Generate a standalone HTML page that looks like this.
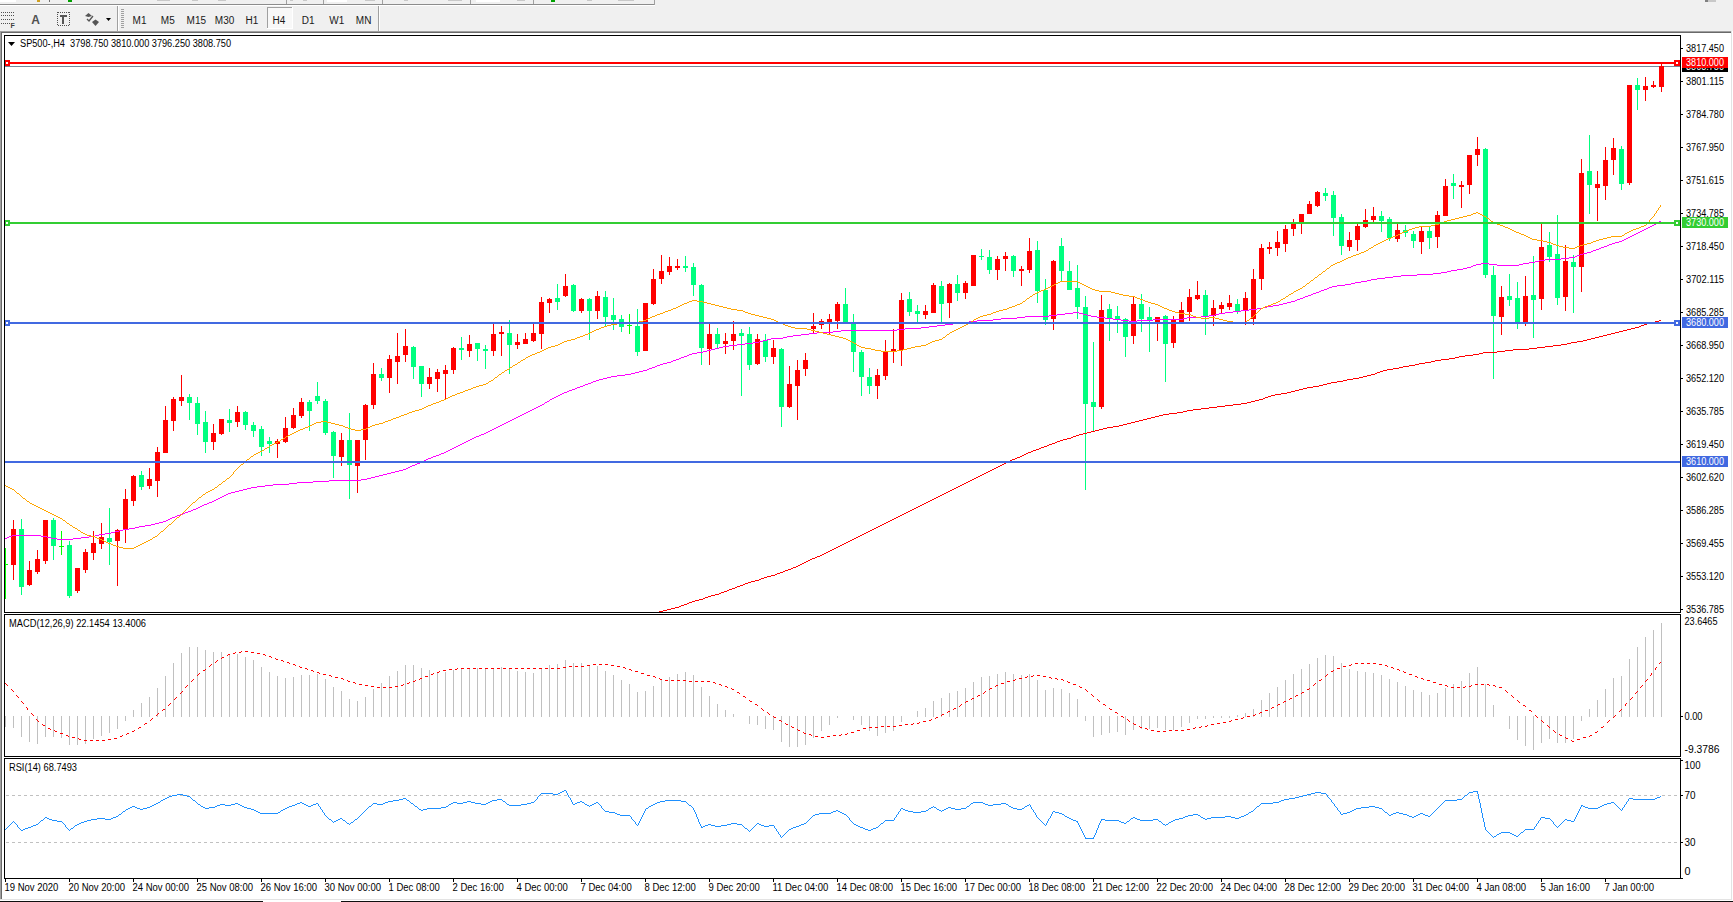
<!DOCTYPE html><html><head><meta charset="utf-8"><style>html,body{margin:0;padding:0;background:#f0f0f0;overflow:hidden}svg{display:block}text{font-family:'Liberation Sans',sans-serif}</style></head><body>
<svg width="1733" height="902" viewBox="0 0 1733 902">
<rect x="0" y="0" width="1733" height="902" fill="#f0f0f0"/>
<g shape-rendering="crispEdges">
<rect x="0" y="4" width="655" height="1" fill="#8c8c8c"/>
<rect x="0" y="5" width="655" height="1" fill="#ffffff"/>
<rect x="654" y="0" width="1" height="5" fill="#a0a0a0"/>
<rect x="0" y="0" width="16" height="2" fill="#ffffff"/>
<rect x="68" y="0" width="4" height="2" fill="#00a000"/>
<rect x="37" y="0" width="3" height="2" fill="#d0a020"/>
<rect x="49" y="0" width="1" height="2" fill="#707070"/>
<rect x="286" y="0" width="1" height="4" fill="#a0a0a0"/>
<rect x="323" y="0" width="1" height="4" fill="#a0a0a0"/>
<rect x="382" y="0" width="1" height="4" fill="#a0a0a0"/>
<rect x="470" y="0" width="1" height="4" fill="#a0a0a0"/>
<rect x="533" y="0" width="1" height="4" fill="#a0a0a0"/>
<rect x="157" y="0" width="13" height="1" fill="#c8c8c8"/>
<rect x="192" y="0" width="6" height="1" fill="#c8c8c8"/>
<rect x="218" y="0" width="8" height="1" fill="#c8c8c8"/>
<rect x="290" y="0" width="3" height="1" fill="#c8c8c8"/>
<rect x="303" y="0" width="4" height="1" fill="#c8c8c8"/>
<rect x="365" y="0" width="10" height="1" fill="#c8c8c8"/>
<rect x="404" y="0" width="4" height="1" fill="#c8c8c8"/>
<rect x="448" y="0" width="14" height="1" fill="#c8c8c8"/>
<rect x="517" y="0" width="8" height="1" fill="#c8c8c8"/>
<rect x="587" y="0" width="5" height="1" fill="#c8c8c8"/>
<rect x="618" y="0" width="16" height="1" fill="#c8c8c8"/>
<rect x="327" y="0" width="20" height="2" fill="#ffffff"/>
<rect x="476" y="0" width="24" height="2" fill="#ffffff"/>
<rect x="551" y="0" width="4" height="2" fill="#00a000"/>
<rect x="1705" y="0" width="3" height="2" fill="#808080"/><rect x="1708" y="0" width="8" height="2" fill="#c8c8c8"/>
<rect x="117" y="6" width="1" height="25" fill="#a0a0a0"/><rect x="118" y="6" width="1" height="25" fill="#ffffff"/>
<rect x="378" y="6" width="1" height="25" fill="#a0a0a0"/><rect x="379" y="6" width="1" height="25" fill="#ffffff"/>
<rect x="121" y="9" width="3" height="1" fill="#a0a0a0"/>
<rect x="121" y="11" width="3" height="1" fill="#a0a0a0"/>
<rect x="121" y="13" width="3" height="1" fill="#a0a0a0"/>
<rect x="121" y="15" width="3" height="1" fill="#a0a0a0"/>
<rect x="121" y="17" width="3" height="1" fill="#a0a0a0"/>
<rect x="121" y="19" width="3" height="1" fill="#a0a0a0"/>
<rect x="121" y="21" width="3" height="1" fill="#a0a0a0"/>
<rect x="121" y="23" width="3" height="1" fill="#a0a0a0"/>
<rect x="121" y="25" width="3" height="1" fill="#a0a0a0"/>
<rect x="121" y="27" width="3" height="1" fill="#a0a0a0"/>
<rect x="267" y="7" width="26" height="22" fill="#f8f8f8"/>
<rect x="267" y="7" width="26" height="1" fill="#a0a0a0"/><rect x="267" y="7" width="1" height="22" fill="#a0a0a0"/>
<rect x="267" y="28" width="26" height="1" fill="#ffffff"/><rect x="292" y="7" width="1" height="22" fill="#ffffff"/>
<rect x="1" y="12" width="1" height="1" fill="#505050"/>
<rect x="3" y="12" width="1" height="1" fill="#505050"/>
<rect x="5" y="12" width="1" height="1" fill="#505050"/>
<rect x="7" y="12" width="1" height="1" fill="#505050"/>
<rect x="9" y="12" width="1" height="1" fill="#505050"/>
<rect x="11" y="12" width="1" height="1" fill="#505050"/>
<rect x="13" y="12" width="1" height="1" fill="#505050"/>
<rect x="1" y="15" width="1" height="1" fill="#505050"/>
<rect x="3" y="15" width="1" height="1" fill="#505050"/>
<rect x="5" y="15" width="1" height="1" fill="#505050"/>
<rect x="7" y="15" width="1" height="1" fill="#505050"/>
<rect x="9" y="15" width="1" height="1" fill="#505050"/>
<rect x="11" y="15" width="1" height="1" fill="#505050"/>
<rect x="13" y="15" width="1" height="1" fill="#505050"/>
<rect x="1" y="19" width="1" height="1" fill="#505050"/>
<rect x="3" y="19" width="1" height="1" fill="#505050"/>
<rect x="5" y="19" width="1" height="1" fill="#505050"/>
<rect x="7" y="19" width="1" height="1" fill="#505050"/>
<rect x="9" y="19" width="1" height="1" fill="#505050"/>
<rect x="11" y="19" width="1" height="1" fill="#505050"/>
<rect x="13" y="19" width="1" height="1" fill="#505050"/>
<rect x="1" y="23" width="1" height="1" fill="#505050"/>
<rect x="3" y="23" width="1" height="1" fill="#505050"/>
<rect x="5" y="23" width="1" height="1" fill="#505050"/>
<rect x="7" y="23" width="1" height="1" fill="#505050"/>
<rect x="9" y="23" width="1" height="1" fill="#505050"/>
</g>
<text x="10.5" y="28" font-size="7" font-weight="bold" fill="#404040">F</text>
<text x="31.2" y="24" font-size="12" font-weight="bold" fill="#505050">A</text>
<g shape-rendering="crispEdges">
<rect x="58" y="12" width="1" height="1" fill="#505050"/><rect x="58" y="25" width="1" height="1" fill="#505050"/>
<rect x="60" y="12" width="1" height="1" fill="#505050"/><rect x="60" y="25" width="1" height="1" fill="#505050"/>
<rect x="62" y="12" width="1" height="1" fill="#505050"/><rect x="62" y="25" width="1" height="1" fill="#505050"/>
<rect x="64" y="12" width="1" height="1" fill="#505050"/><rect x="64" y="25" width="1" height="1" fill="#505050"/>
<rect x="66" y="12" width="1" height="1" fill="#505050"/><rect x="66" y="25" width="1" height="1" fill="#505050"/>
<rect x="68" y="12" width="1" height="1" fill="#505050"/><rect x="68" y="25" width="1" height="1" fill="#505050"/>
<rect x="57" y="12" width="1" height="1" fill="#505050"/><rect x="69" y="12" width="1" height="1" fill="#505050"/>
<rect x="57" y="14" width="1" height="1" fill="#505050"/><rect x="69" y="14" width="1" height="1" fill="#505050"/>
<rect x="57" y="16" width="1" height="1" fill="#505050"/><rect x="69" y="16" width="1" height="1" fill="#505050"/>
<rect x="57" y="18" width="1" height="1" fill="#505050"/><rect x="69" y="18" width="1" height="1" fill="#505050"/>
<rect x="57" y="20" width="1" height="1" fill="#505050"/><rect x="69" y="20" width="1" height="1" fill="#505050"/>
<rect x="57" y="22" width="1" height="1" fill="#505050"/><rect x="69" y="22" width="1" height="1" fill="#505050"/>
<rect x="57" y="24" width="1" height="1" fill="#505050"/><rect x="69" y="24" width="1" height="1" fill="#505050"/>
<rect x="60" y="15" width="7" height="2" fill="#555"/><rect x="62" y="15" width="2" height="9" fill="#555"/>
</g>
<path d="M85 16 L88.5 13 L92 16 L88.5 17 Z" fill="#555"/><path d="M92 22 L95.5 19.5 L99 22 L95.5 26 Z" fill="#555"/>
<path d="M87 19 L89 21 L93 16" fill="none" stroke="#555" stroke-width="1.3"/>
<path d="M106 18 L111 18 L108.5 21 Z" fill="#000"/>
<text x="132.6" y="24" font-size="10" fill="#1a1a1a" text-anchor="start" >M1</text>
<text x="160.8" y="24" font-size="10" fill="#1a1a1a" text-anchor="start" >M5</text>
<text x="186.6" y="24" font-size="10" fill="#1a1a1a" text-anchor="start" >M15</text>
<text x="214.8" y="24" font-size="10" fill="#1a1a1a" text-anchor="start" >M30</text>
<text x="245.5" y="24" font-size="10" fill="#1a1a1a" text-anchor="start" >H1</text>
<text x="272.6" y="24" font-size="10" fill="#1a1a1a" text-anchor="start" >H4</text>
<text x="301.7" y="24" font-size="10" fill="#1a1a1a" text-anchor="start" >D1</text>
<text x="329.3" y="24" font-size="10" fill="#1a1a1a" text-anchor="start" >W1</text>
<text x="355.8" y="24" font-size="10" fill="#1a1a1a" text-anchor="start" >MN</text>
<g shape-rendering="crispEdges">
<rect x="0" y="31" width="1732" height="1" fill="#a0a0a0"/>
<rect x="0" y="32" width="1731" height="1" fill="#696969"/>
<rect x="2" y="33" width="1729" height="866" fill="#ffffff"/>
<rect x="0" y="31" width="1" height="869" fill="#a0a0a0"/>
<rect x="1" y="32" width="1" height="867" fill="#696969"/>
<rect x="1731" y="31" width="1" height="869" fill="#e3e3e3"/>
<rect x="1732" y="31" width="1" height="870" fill="#ffffff"/>
<rect x="0" y="899" width="1732" height="1" fill="#e3e3e3"/>
<rect x="0" y="900" width="1733" height="1" fill="#ffffff"/>
<rect x="0" y="901" width="1733" height="1" fill="#101010"/>
<rect x="263" y="901" width="78" height="1" fill="#ffffff"/>
</g>
<defs><clipPath id="cm"><rect x="5" y="36" width="1675" height="576"/></clipPath><clipPath id="cmacd"><rect x="5" y="615" width="1675" height="141"/></clipPath><clipPath id="crsi"><rect x="5" y="759" width="1675" height="119"/></clipPath></defs>
<rect x="5" y="66" width="1675" height="1" fill="#778899" shape-rendering="crispEdges"/>
<g clip-path="url(#cm)" shape-rendering="crispEdges">
<rect x="5" y="548" width="1" height="51" fill="#00FF00"/>
<rect x="3" y="564" width="5" height="1" fill="#00FF00"/>
<rect x="13" y="520" width="1" height="60" fill="#FF0000"/>
<rect x="11" y="529" width="5" height="36" fill="#FF0000"/>
<rect x="21" y="519" width="1" height="76" fill="#00FF7F"/>
<rect x="19" y="529" width="5" height="58" fill="#00FF7F"/>
<rect x="29" y="561" width="1" height="25" fill="#FF0000"/>
<rect x="27" y="570" width="5" height="15" fill="#FF0000"/>
<rect x="37" y="550" width="1" height="24" fill="#FF0000"/>
<rect x="35" y="559" width="5" height="13" fill="#FF0000"/>
<rect x="45" y="520" width="1" height="44" fill="#FF0000"/>
<rect x="43" y="520" width="5" height="41" fill="#FF0000"/>
<rect x="53" y="518" width="1" height="42" fill="#00FF7F"/>
<rect x="51" y="520" width="5" height="26" fill="#00FF7F"/>
<rect x="61" y="531" width="1" height="24" fill="#00FF00"/>
<rect x="59" y="546" width="5" height="1" fill="#00FF00"/>
<rect x="69" y="541" width="1" height="57" fill="#00FF7F"/>
<rect x="67" y="545" width="5" height="51" fill="#00FF7F"/>
<rect x="77" y="568" width="1" height="25" fill="#FF0000"/>
<rect x="75" y="568" width="5" height="23" fill="#FF0000"/>
<rect x="85" y="549" width="1" height="24" fill="#FF0000"/>
<rect x="83" y="552" width="5" height="18" fill="#FF0000"/>
<rect x="93" y="531" width="1" height="29" fill="#FF0000"/>
<rect x="91" y="543" width="5" height="10" fill="#FF0000"/>
<rect x="101" y="523" width="1" height="26" fill="#FF0000"/>
<rect x="99" y="537" width="5" height="7" fill="#FF0000"/>
<rect x="109" y="508" width="1" height="57" fill="#00FF7F"/>
<rect x="107" y="538" width="5" height="4" fill="#00FF7F"/>
<rect x="117" y="529" width="1" height="57" fill="#FF0000"/>
<rect x="115" y="530" width="5" height="11" fill="#FF0000"/>
<rect x="125" y="489" width="1" height="54" fill="#FF0000"/>
<rect x="123" y="499" width="5" height="31" fill="#FF0000"/>
<rect x="133" y="475" width="1" height="31" fill="#FF0000"/>
<rect x="131" y="476" width="5" height="25" fill="#FF0000"/>
<rect x="141" y="471" width="1" height="19" fill="#00FF7F"/>
<rect x="139" y="475" width="5" height="12" fill="#00FF7F"/>
<rect x="149" y="468" width="1" height="21" fill="#FF0000"/>
<rect x="147" y="479" width="5" height="7" fill="#FF0000"/>
<rect x="157" y="447" width="1" height="50" fill="#FF0000"/>
<rect x="155" y="452" width="5" height="29" fill="#FF0000"/>
<rect x="165" y="406" width="1" height="47" fill="#FF0000"/>
<rect x="163" y="420" width="5" height="33" fill="#FF0000"/>
<rect x="173" y="397" width="1" height="34" fill="#FF0000"/>
<rect x="171" y="399" width="5" height="22" fill="#FF0000"/>
<rect x="181" y="375" width="1" height="31" fill="#FF0000"/>
<rect x="179" y="397" width="5" height="4" fill="#FF0000"/>
<rect x="189" y="394" width="1" height="26" fill="#00FF7F"/>
<rect x="187" y="397" width="5" height="6" fill="#00FF7F"/>
<rect x="197" y="397" width="1" height="38" fill="#00FF7F"/>
<rect x="195" y="403" width="5" height="21" fill="#00FF7F"/>
<rect x="205" y="411" width="1" height="42" fill="#00FF7F"/>
<rect x="203" y="422" width="5" height="20" fill="#00FF7F"/>
<rect x="213" y="424" width="1" height="26" fill="#FF0000"/>
<rect x="211" y="433" width="5" height="9" fill="#FF0000"/>
<rect x="221" y="419" width="1" height="16" fill="#FF0000"/>
<rect x="219" y="419" width="5" height="15" fill="#FF0000"/>
<rect x="229" y="409" width="1" height="23" fill="#00FF7F"/>
<rect x="227" y="420" width="5" height="3" fill="#00FF7F"/>
<rect x="237" y="406" width="1" height="21" fill="#FF0000"/>
<rect x="235" y="412" width="5" height="10" fill="#FF0000"/>
<rect x="245" y="411" width="1" height="19" fill="#00FF7F"/>
<rect x="243" y="412" width="5" height="13" fill="#00FF7F"/>
<rect x="253" y="422" width="1" height="15" fill="#00FF7F"/>
<rect x="251" y="425" width="5" height="6" fill="#00FF7F"/>
<rect x="261" y="426" width="1" height="30" fill="#00FF7F"/>
<rect x="259" y="429" width="5" height="18" fill="#00FF7F"/>
<rect x="269" y="437" width="1" height="16" fill="#00FF7F"/>
<rect x="267" y="441" width="5" height="3" fill="#00FF7F"/>
<rect x="277" y="439" width="1" height="19" fill="#FF0000"/>
<rect x="275" y="441" width="5" height="3" fill="#FF0000"/>
<rect x="285" y="417" width="1" height="26" fill="#FF0000"/>
<rect x="283" y="428" width="5" height="14" fill="#FF0000"/>
<rect x="293" y="408" width="1" height="21" fill="#FF0000"/>
<rect x="291" y="415" width="5" height="13" fill="#FF0000"/>
<rect x="301" y="398" width="1" height="20" fill="#FF0000"/>
<rect x="299" y="402" width="5" height="14" fill="#FF0000"/>
<rect x="309" y="400" width="1" height="31" fill="#00FF7F"/>
<rect x="307" y="402" width="5" height="9" fill="#00FF7F"/>
<rect x="317" y="382" width="1" height="22" fill="#00FF7F"/>
<rect x="315" y="396" width="5" height="5" fill="#00FF7F"/>
<rect x="325" y="399" width="1" height="36" fill="#00FF7F"/>
<rect x="323" y="401" width="5" height="32" fill="#00FF7F"/>
<rect x="333" y="431" width="1" height="47" fill="#00FF7F"/>
<rect x="331" y="432" width="5" height="24" fill="#00FF7F"/>
<rect x="341" y="433" width="1" height="33" fill="#FF0000"/>
<rect x="339" y="440" width="5" height="17" fill="#FF0000"/>
<rect x="349" y="413" width="1" height="86" fill="#00FF7F"/>
<rect x="347" y="440" width="5" height="25" fill="#00FF7F"/>
<rect x="357" y="440" width="1" height="53" fill="#FF0000"/>
<rect x="355" y="440" width="5" height="26" fill="#FF0000"/>
<rect x="365" y="404" width="1" height="56" fill="#FF0000"/>
<rect x="363" y="405" width="5" height="35" fill="#FF0000"/>
<rect x="373" y="363" width="1" height="46" fill="#FF0000"/>
<rect x="371" y="374" width="5" height="31" fill="#FF0000"/>
<rect x="381" y="368" width="1" height="13" fill="#00FF7F"/>
<rect x="379" y="374" width="5" height="4" fill="#00FF7F"/>
<rect x="389" y="355" width="1" height="38" fill="#FF0000"/>
<rect x="387" y="359" width="5" height="19" fill="#FF0000"/>
<rect x="397" y="333" width="1" height="51" fill="#FF0000"/>
<rect x="395" y="356" width="5" height="6" fill="#FF0000"/>
<rect x="405" y="329" width="1" height="33" fill="#FF0000"/>
<rect x="403" y="346" width="5" height="9" fill="#FF0000"/>
<rect x="413" y="346" width="1" height="33" fill="#00FF7F"/>
<rect x="411" y="347" width="5" height="20" fill="#00FF7F"/>
<rect x="421" y="366" width="1" height="31" fill="#00FF7F"/>
<rect x="419" y="366" width="5" height="18" fill="#00FF7F"/>
<rect x="429" y="368" width="1" height="21" fill="#FF0000"/>
<rect x="427" y="377" width="5" height="7" fill="#FF0000"/>
<rect x="437" y="369" width="1" height="23" fill="#FF0000"/>
<rect x="435" y="372" width="5" height="7" fill="#FF0000"/>
<rect x="445" y="365" width="1" height="34" fill="#FF0000"/>
<rect x="443" y="370" width="5" height="4" fill="#FF0000"/>
<rect x="453" y="347" width="1" height="27" fill="#FF0000"/>
<rect x="451" y="348" width="5" height="22" fill="#FF0000"/>
<rect x="461" y="337" width="1" height="23" fill="#00FF7F"/>
<rect x="459" y="348" width="5" height="2" fill="#00FF7F"/>
<rect x="469" y="335" width="1" height="22" fill="#FF0000"/>
<rect x="467" y="344" width="5" height="7" fill="#FF0000"/>
<rect x="477" y="343" width="1" height="18" fill="#00FF7F"/>
<rect x="475" y="343" width="5" height="6" fill="#00FF7F"/>
<rect x="485" y="345" width="1" height="24" fill="#00FF7F"/>
<rect x="483" y="349" width="5" height="2" fill="#00FF7F"/>
<rect x="493" y="324" width="1" height="32" fill="#FF0000"/>
<rect x="491" y="334" width="5" height="17" fill="#FF0000"/>
<rect x="501" y="326" width="1" height="30" fill="#FF0000"/>
<rect x="499" y="332" width="5" height="2" fill="#FF0000"/>
<rect x="509" y="320" width="1" height="54" fill="#00FF7F"/>
<rect x="507" y="333" width="5" height="12" fill="#00FF7F"/>
<rect x="517" y="334" width="1" height="15" fill="#FF0000"/>
<rect x="515" y="342" width="5" height="3" fill="#FF0000"/>
<rect x="525" y="333" width="1" height="11" fill="#FF0000"/>
<rect x="523" y="339" width="5" height="5" fill="#FF0000"/>
<rect x="533" y="324" width="1" height="18" fill="#FF0000"/>
<rect x="531" y="333" width="5" height="8" fill="#FF0000"/>
<rect x="541" y="297" width="1" height="52" fill="#FF0000"/>
<rect x="539" y="302" width="5" height="32" fill="#FF0000"/>
<rect x="549" y="298" width="1" height="15" fill="#FF0000"/>
<rect x="547" y="299" width="5" height="4" fill="#FF0000"/>
<rect x="557" y="284" width="1" height="26" fill="#00FF7F"/>
<rect x="555" y="298" width="5" height="4" fill="#00FF7F"/>
<rect x="565" y="274" width="1" height="23" fill="#FF0000"/>
<rect x="563" y="286" width="5" height="10" fill="#FF0000"/>
<rect x="573" y="284" width="1" height="28" fill="#00FF7F"/>
<rect x="571" y="285" width="5" height="26" fill="#00FF7F"/>
<rect x="581" y="298" width="1" height="15" fill="#FF0000"/>
<rect x="579" y="299" width="5" height="12" fill="#FF0000"/>
<rect x="589" y="298" width="1" height="42" fill="#00FF7F"/>
<rect x="587" y="299" width="5" height="12" fill="#00FF7F"/>
<rect x="597" y="291" width="1" height="28" fill="#FF0000"/>
<rect x="595" y="296" width="5" height="15" fill="#FF0000"/>
<rect x="605" y="291" width="1" height="35" fill="#00FF7F"/>
<rect x="603" y="297" width="5" height="20" fill="#00FF7F"/>
<rect x="613" y="298" width="1" height="32" fill="#00FF7F"/>
<rect x="611" y="315" width="5" height="5" fill="#00FF7F"/>
<rect x="621" y="315" width="1" height="17" fill="#00FF7F"/>
<rect x="619" y="319" width="5" height="8" fill="#00FF7F"/>
<rect x="629" y="314" width="1" height="20" fill="#00FF00"/>
<rect x="627" y="325" width="5" height="1" fill="#00FF00"/>
<rect x="637" y="309" width="1" height="47" fill="#00FF7F"/>
<rect x="635" y="326" width="5" height="26" fill="#00FF7F"/>
<rect x="645" y="303" width="1" height="48" fill="#FF0000"/>
<rect x="643" y="303" width="5" height="48" fill="#FF0000"/>
<rect x="653" y="269" width="1" height="36" fill="#FF0000"/>
<rect x="651" y="279" width="5" height="25" fill="#FF0000"/>
<rect x="661" y="255" width="1" height="29" fill="#FF0000"/>
<rect x="659" y="271" width="5" height="8" fill="#FF0000"/>
<rect x="669" y="257" width="1" height="18" fill="#FF0000"/>
<rect x="667" y="266" width="5" height="6" fill="#FF0000"/>
<rect x="677" y="259" width="1" height="11" fill="#FF0000"/>
<rect x="675" y="266" width="5" height="2" fill="#FF0000"/>
<rect x="685" y="256" width="1" height="16" fill="#00FF7F"/>
<rect x="683" y="266" width="5" height="2" fill="#00FF7F"/>
<rect x="693" y="263" width="1" height="33" fill="#00FF7F"/>
<rect x="691" y="267" width="5" height="18" fill="#00FF7F"/>
<rect x="701" y="284" width="1" height="81" fill="#00FF7F"/>
<rect x="699" y="285" width="5" height="63" fill="#00FF7F"/>
<rect x="709" y="324" width="1" height="41" fill="#FF0000"/>
<rect x="707" y="334" width="5" height="15" fill="#FF0000"/>
<rect x="717" y="328" width="1" height="20" fill="#00FF7F"/>
<rect x="715" y="334" width="5" height="10" fill="#00FF7F"/>
<rect x="725" y="333" width="1" height="21" fill="#FF0000"/>
<rect x="723" y="341" width="5" height="3" fill="#FF0000"/>
<rect x="733" y="321" width="1" height="29" fill="#FF0000"/>
<rect x="731" y="334" width="5" height="7" fill="#FF0000"/>
<rect x="741" y="329" width="1" height="67" fill="#00FF7F"/>
<rect x="739" y="333" width="5" height="3" fill="#00FF7F"/>
<rect x="749" y="327" width="1" height="43" fill="#00FF7F"/>
<rect x="747" y="334" width="5" height="31" fill="#00FF7F"/>
<rect x="757" y="334" width="1" height="31" fill="#FF0000"/>
<rect x="755" y="339" width="5" height="25" fill="#FF0000"/>
<rect x="765" y="334" width="1" height="28" fill="#00FF7F"/>
<rect x="763" y="340" width="5" height="17" fill="#00FF7F"/>
<rect x="773" y="340" width="1" height="24" fill="#FF0000"/>
<rect x="771" y="348" width="5" height="9" fill="#FF0000"/>
<rect x="781" y="348" width="1" height="79" fill="#00FF7F"/>
<rect x="779" y="349" width="5" height="58" fill="#00FF7F"/>
<rect x="789" y="366" width="1" height="42" fill="#FF0000"/>
<rect x="787" y="384" width="5" height="23" fill="#FF0000"/>
<rect x="797" y="360" width="1" height="60" fill="#FF0000"/>
<rect x="795" y="370" width="5" height="16" fill="#FF0000"/>
<rect x="805" y="353" width="1" height="23" fill="#FF0000"/>
<rect x="803" y="360" width="5" height="9" fill="#FF0000"/>
<rect x="813" y="313" width="1" height="20" fill="#FF0000"/>
<rect x="811" y="326" width="5" height="3" fill="#FF0000"/>
<rect x="821" y="319" width="1" height="10" fill="#FF0000"/>
<rect x="819" y="321" width="5" height="4" fill="#FF0000"/>
<rect x="829" y="314" width="1" height="20" fill="#FF0000"/>
<rect x="827" y="319" width="5" height="3" fill="#FF0000"/>
<rect x="837" y="302" width="1" height="27" fill="#FF0000"/>
<rect x="835" y="304" width="5" height="17" fill="#FF0000"/>
<rect x="845" y="288" width="1" height="35" fill="#00FF7F"/>
<rect x="843" y="304" width="5" height="18" fill="#00FF7F"/>
<rect x="853" y="314" width="1" height="58" fill="#00FF7F"/>
<rect x="851" y="322" width="5" height="30" fill="#00FF7F"/>
<rect x="861" y="350" width="1" height="46" fill="#00FF7F"/>
<rect x="859" y="352" width="5" height="25" fill="#00FF7F"/>
<rect x="869" y="368" width="1" height="26" fill="#00FF7F"/>
<rect x="867" y="377" width="5" height="9" fill="#00FF7F"/>
<rect x="877" y="369" width="1" height="30" fill="#FF0000"/>
<rect x="875" y="375" width="5" height="11" fill="#FF0000"/>
<rect x="885" y="340" width="1" height="40" fill="#FF0000"/>
<rect x="883" y="352" width="5" height="24" fill="#FF0000"/>
<rect x="893" y="329" width="1" height="34" fill="#FF0000"/>
<rect x="891" y="349" width="5" height="2" fill="#FF0000"/>
<rect x="901" y="293" width="1" height="73" fill="#FF0000"/>
<rect x="899" y="300" width="5" height="50" fill="#FF0000"/>
<rect x="909" y="292" width="1" height="24" fill="#00FF7F"/>
<rect x="907" y="299" width="5" height="13" fill="#00FF7F"/>
<rect x="917" y="305" width="1" height="17" fill="#00FF7F"/>
<rect x="915" y="311" width="5" height="3" fill="#00FF7F"/>
<rect x="925" y="305" width="1" height="14" fill="#FF0000"/>
<rect x="923" y="311" width="5" height="4" fill="#FF0000"/>
<rect x="933" y="283" width="1" height="30" fill="#FF0000"/>
<rect x="931" y="285" width="5" height="28" fill="#FF0000"/>
<rect x="941" y="281" width="1" height="41" fill="#00FF7F"/>
<rect x="939" y="286" width="5" height="18" fill="#00FF7F"/>
<rect x="949" y="283" width="1" height="35" fill="#FF0000"/>
<rect x="947" y="284" width="5" height="19" fill="#FF0000"/>
<rect x="957" y="275" width="1" height="26" fill="#00FF7F"/>
<rect x="955" y="284" width="5" height="9" fill="#00FF7F"/>
<rect x="965" y="281" width="1" height="18" fill="#FF0000"/>
<rect x="963" y="283" width="5" height="10" fill="#FF0000"/>
<rect x="973" y="255" width="1" height="31" fill="#FF0000"/>
<rect x="971" y="255" width="5" height="31" fill="#FF0000"/>
<rect x="981" y="249" width="1" height="11" fill="#00FF7F"/>
<rect x="979" y="256" width="5" height="1" fill="#00FF7F"/>
<rect x="989" y="250" width="1" height="24" fill="#00FF7F"/>
<rect x="987" y="257" width="5" height="13" fill="#00FF7F"/>
<rect x="997" y="256" width="1" height="24" fill="#FF0000"/>
<rect x="995" y="259" width="5" height="11" fill="#FF0000"/>
<rect x="1005" y="252" width="1" height="19" fill="#FF0000"/>
<rect x="1003" y="256" width="5" height="3" fill="#FF0000"/>
<rect x="1013" y="255" width="1" height="22" fill="#00FF7F"/>
<rect x="1011" y="256" width="5" height="15" fill="#00FF7F"/>
<rect x="1021" y="266" width="1" height="20" fill="#FF0000"/>
<rect x="1019" y="269" width="5" height="2" fill="#FF0000"/>
<rect x="1029" y="238" width="1" height="35" fill="#FF0000"/>
<rect x="1027" y="251" width="5" height="19" fill="#FF0000"/>
<rect x="1037" y="241" width="1" height="62" fill="#00FF7F"/>
<rect x="1035" y="250" width="5" height="41" fill="#00FF7F"/>
<rect x="1045" y="279" width="1" height="46" fill="#00FF7F"/>
<rect x="1043" y="290" width="5" height="30" fill="#00FF7F"/>
<rect x="1053" y="260" width="1" height="70" fill="#FF0000"/>
<rect x="1051" y="261" width="5" height="58" fill="#FF0000"/>
<rect x="1061" y="238" width="1" height="43" fill="#00FF7F"/>
<rect x="1059" y="246" width="5" height="25" fill="#00FF7F"/>
<rect x="1069" y="261" width="1" height="29" fill="#00FF7F"/>
<rect x="1067" y="271" width="5" height="19" fill="#00FF7F"/>
<rect x="1077" y="265" width="1" height="54" fill="#00FF7F"/>
<rect x="1075" y="288" width="5" height="19" fill="#00FF7F"/>
<rect x="1085" y="296" width="1" height="194" fill="#00FF7F"/>
<rect x="1083" y="307" width="5" height="97" fill="#00FF7F"/>
<rect x="1093" y="342" width="1" height="90" fill="#00FF7F"/>
<rect x="1091" y="402" width="5" height="5" fill="#00FF7F"/>
<rect x="1101" y="295" width="1" height="114" fill="#FF0000"/>
<rect x="1099" y="310" width="5" height="97" fill="#FF0000"/>
<rect x="1109" y="304" width="1" height="37" fill="#00FF7F"/>
<rect x="1107" y="309" width="5" height="9" fill="#00FF7F"/>
<rect x="1117" y="306" width="1" height="27" fill="#00FF7F"/>
<rect x="1115" y="316" width="5" height="3" fill="#00FF7F"/>
<rect x="1125" y="318" width="1" height="39" fill="#00FF7F"/>
<rect x="1123" y="319" width="5" height="18" fill="#00FF7F"/>
<rect x="1133" y="297" width="1" height="47" fill="#FF0000"/>
<rect x="1131" y="304" width="5" height="32" fill="#FF0000"/>
<rect x="1141" y="294" width="1" height="38" fill="#00FF7F"/>
<rect x="1139" y="304" width="5" height="15" fill="#00FF7F"/>
<rect x="1149" y="307" width="1" height="45" fill="#00FF7F"/>
<rect x="1147" y="317" width="5" height="4" fill="#00FF7F"/>
<rect x="1157" y="317" width="1" height="24" fill="#FF0000"/>
<rect x="1155" y="317" width="5" height="5" fill="#FF0000"/>
<rect x="1165" y="315" width="1" height="67" fill="#00FF7F"/>
<rect x="1163" y="316" width="5" height="28" fill="#00FF7F"/>
<rect x="1173" y="316" width="1" height="32" fill="#FF0000"/>
<rect x="1171" y="319" width="5" height="24" fill="#FF0000"/>
<rect x="1181" y="302" width="1" height="21" fill="#FF0000"/>
<rect x="1179" y="310" width="5" height="12" fill="#FF0000"/>
<rect x="1189" y="289" width="1" height="32" fill="#FF0000"/>
<rect x="1187" y="297" width="5" height="15" fill="#FF0000"/>
<rect x="1197" y="281" width="1" height="19" fill="#FF0000"/>
<rect x="1195" y="295" width="5" height="4" fill="#FF0000"/>
<rect x="1205" y="290" width="1" height="45" fill="#00FF7F"/>
<rect x="1203" y="295" width="5" height="21" fill="#00FF7F"/>
<rect x="1213" y="300" width="1" height="26" fill="#FF0000"/>
<rect x="1211" y="308" width="5" height="8" fill="#FF0000"/>
<rect x="1221" y="302" width="1" height="11" fill="#FF0000"/>
<rect x="1219" y="305" width="5" height="4" fill="#FF0000"/>
<rect x="1229" y="295" width="1" height="15" fill="#FF0000"/>
<rect x="1227" y="303" width="5" height="4" fill="#FF0000"/>
<rect x="1237" y="299" width="1" height="15" fill="#00FF7F"/>
<rect x="1235" y="304" width="5" height="7" fill="#00FF7F"/>
<rect x="1245" y="292" width="1" height="33" fill="#FF0000"/>
<rect x="1243" y="298" width="5" height="12" fill="#FF0000"/>
<rect x="1253" y="269" width="1" height="56" fill="#FF0000"/>
<rect x="1251" y="279" width="5" height="40" fill="#FF0000"/>
<rect x="1261" y="244" width="1" height="46" fill="#FF0000"/>
<rect x="1259" y="248" width="5" height="31" fill="#FF0000"/>
<rect x="1269" y="242" width="1" height="12" fill="#FF0000"/>
<rect x="1267" y="247" width="5" height="2" fill="#FF0000"/>
<rect x="1277" y="231" width="1" height="25" fill="#FF0000"/>
<rect x="1275" y="242" width="5" height="6" fill="#FF0000"/>
<rect x="1285" y="225" width="1" height="27" fill="#FF0000"/>
<rect x="1283" y="229" width="5" height="15" fill="#FF0000"/>
<rect x="1293" y="219" width="1" height="17" fill="#FF0000"/>
<rect x="1291" y="224" width="5" height="5" fill="#FF0000"/>
<rect x="1301" y="214" width="1" height="20" fill="#FF0000"/>
<rect x="1299" y="214" width="5" height="8" fill="#FF0000"/>
<rect x="1309" y="201" width="1" height="13" fill="#FF0000"/>
<rect x="1307" y="204" width="5" height="10" fill="#FF0000"/>
<rect x="1317" y="191" width="1" height="16" fill="#FF0000"/>
<rect x="1315" y="192" width="5" height="14" fill="#FF0000"/>
<rect x="1325" y="188" width="1" height="13" fill="#00FF7F"/>
<rect x="1323" y="193" width="5" height="3" fill="#00FF7F"/>
<rect x="1333" y="191" width="1" height="45" fill="#00FF7F"/>
<rect x="1331" y="195" width="5" height="23" fill="#00FF7F"/>
<rect x="1341" y="214" width="1" height="41" fill="#00FF7F"/>
<rect x="1339" y="217" width="5" height="29" fill="#00FF7F"/>
<rect x="1349" y="232" width="1" height="19" fill="#FF0000"/>
<rect x="1347" y="240" width="5" height="7" fill="#FF0000"/>
<rect x="1357" y="224" width="1" height="27" fill="#FF0000"/>
<rect x="1355" y="226" width="5" height="14" fill="#FF0000"/>
<rect x="1365" y="209" width="1" height="19" fill="#FF0000"/>
<rect x="1363" y="220" width="5" height="7" fill="#FF0000"/>
<rect x="1373" y="207" width="1" height="15" fill="#FF0000"/>
<rect x="1371" y="216" width="5" height="4" fill="#FF0000"/>
<rect x="1381" y="211" width="1" height="21" fill="#00FF7F"/>
<rect x="1379" y="216" width="5" height="5" fill="#00FF7F"/>
<rect x="1389" y="217" width="1" height="24" fill="#00FF7F"/>
<rect x="1387" y="219" width="5" height="19" fill="#00FF7F"/>
<rect x="1397" y="224" width="1" height="18" fill="#FF0000"/>
<rect x="1395" y="230" width="5" height="9" fill="#FF0000"/>
<rect x="1405" y="225" width="1" height="12" fill="#00FF7F"/>
<rect x="1403" y="230" width="5" height="3" fill="#00FF7F"/>
<rect x="1413" y="231" width="1" height="17" fill="#00FF7F"/>
<rect x="1411" y="234" width="5" height="7" fill="#00FF7F"/>
<rect x="1421" y="227" width="1" height="27" fill="#FF0000"/>
<rect x="1419" y="231" width="5" height="11" fill="#FF0000"/>
<rect x="1429" y="227" width="1" height="22" fill="#00FF7F"/>
<rect x="1427" y="231" width="5" height="7" fill="#00FF7F"/>
<rect x="1437" y="211" width="1" height="37" fill="#FF0000"/>
<rect x="1435" y="215" width="5" height="22" fill="#FF0000"/>
<rect x="1445" y="179" width="1" height="37" fill="#FF0000"/>
<rect x="1443" y="186" width="5" height="30" fill="#FF0000"/>
<rect x="1453" y="174" width="1" height="25" fill="#00FF7F"/>
<rect x="1451" y="183" width="5" height="3" fill="#00FF7F"/>
<rect x="1461" y="181" width="1" height="27" fill="#FF0000"/>
<rect x="1459" y="185" width="5" height="2" fill="#FF0000"/>
<rect x="1469" y="155" width="1" height="39" fill="#FF0000"/>
<rect x="1467" y="155" width="5" height="30" fill="#FF0000"/>
<rect x="1477" y="137" width="1" height="29" fill="#FF0000"/>
<rect x="1475" y="149" width="5" height="6" fill="#FF0000"/>
<rect x="1485" y="148" width="1" height="130" fill="#00FF7F"/>
<rect x="1483" y="149" width="5" height="126" fill="#00FF7F"/>
<rect x="1493" y="266" width="1" height="113" fill="#00FF7F"/>
<rect x="1491" y="275" width="5" height="41" fill="#00FF7F"/>
<rect x="1501" y="286" width="1" height="49" fill="#FF0000"/>
<rect x="1499" y="297" width="5" height="20" fill="#FF0000"/>
<rect x="1509" y="274" width="1" height="32" fill="#00FF7F"/>
<rect x="1507" y="296" width="5" height="4" fill="#00FF7F"/>
<rect x="1517" y="282" width="1" height="47" fill="#00FF7F"/>
<rect x="1515" y="298" width="5" height="24" fill="#00FF7F"/>
<rect x="1525" y="276" width="1" height="50" fill="#FF0000"/>
<rect x="1523" y="296" width="5" height="26" fill="#FF0000"/>
<rect x="1533" y="256" width="1" height="82" fill="#00FF7F"/>
<rect x="1531" y="295" width="5" height="5" fill="#00FF7F"/>
<rect x="1541" y="224" width="1" height="86" fill="#FF0000"/>
<rect x="1539" y="247" width="5" height="52" fill="#FF0000"/>
<rect x="1549" y="232" width="1" height="30" fill="#00FF7F"/>
<rect x="1547" y="245" width="5" height="12" fill="#00FF7F"/>
<rect x="1557" y="215" width="1" height="90" fill="#00FF7F"/>
<rect x="1555" y="254" width="5" height="44" fill="#00FF7F"/>
<rect x="1565" y="245" width="1" height="66" fill="#FF0000"/>
<rect x="1563" y="261" width="5" height="36" fill="#FF0000"/>
<rect x="1573" y="255" width="1" height="58" fill="#00FF7F"/>
<rect x="1571" y="262" width="5" height="5" fill="#00FF7F"/>
<rect x="1581" y="159" width="1" height="133" fill="#FF0000"/>
<rect x="1579" y="173" width="5" height="94" fill="#FF0000"/>
<rect x="1589" y="135" width="1" height="79" fill="#00FF7F"/>
<rect x="1587" y="171" width="5" height="14" fill="#00FF7F"/>
<rect x="1597" y="171" width="1" height="50" fill="#FF0000"/>
<rect x="1595" y="184" width="5" height="4" fill="#FF0000"/>
<rect x="1605" y="147" width="1" height="53" fill="#FF0000"/>
<rect x="1603" y="160" width="5" height="26" fill="#FF0000"/>
<rect x="1613" y="138" width="1" height="37" fill="#FF0000"/>
<rect x="1611" y="148" width="5" height="12" fill="#FF0000"/>
<rect x="1621" y="146" width="1" height="44" fill="#00FF7F"/>
<rect x="1619" y="149" width="5" height="35" fill="#00FF7F"/>
<rect x="1629" y="85" width="1" height="100" fill="#FF0000"/>
<rect x="1627" y="85" width="5" height="98" fill="#FF0000"/>
<rect x="1637" y="78" width="1" height="32" fill="#00FF7F"/>
<rect x="1635" y="85" width="5" height="5" fill="#00FF7F"/>
<rect x="1645" y="77" width="1" height="24" fill="#FF0000"/>
<rect x="1643" y="86" width="5" height="4" fill="#FF0000"/>
<rect x="1653" y="81" width="1" height="7" fill="#FF0000"/>
<rect x="1651" y="85" width="5" height="2" fill="#FF0000"/>
<rect x="1661" y="64" width="1" height="28" fill="#FF0000"/>
<rect x="1659" y="66" width="5" height="21" fill="#FF0000"/>
</g>
<path clip-path="url(#cm)" fill="#FF0000" shape-rendering="crispEdges" d="M637 616h4v1h-4zM641 615h6v1h-6zM647 614h4v1h-4zM651 613h4v1h-4zM655 612h4v1h-4zM659 611h4v1h-4zM663 610h4v1h-4zM667 609h4v1h-4zM671 608h4v1h-4zM675 607h4v1h-4zM679 606h2v1h-2zM681 605h3v1h-3zM684 604h3v1h-3zM687 603h2v1h-2zM689 602h3v1h-3zM692 601h3v1h-3zM695 600h4v1h-4zM699 599h4v1h-4zM703 598h2v1h-2zM705 597h3v1h-3zM708 596h3v1h-3zM711 595h4v1h-4zM715 594h4v1h-4zM719 593h2v1h-2zM721 592h3v1h-3zM724 591h3v1h-3zM727 590h2v1h-2zM729 589h3v1h-3zM732 588h3v1h-3zM735 587h2v1h-2zM737 586h3v1h-3zM740 585h3v1h-3zM743 584h2v1h-2zM745 583h3v1h-3zM748 582h3v1h-3zM751 581h4v1h-4zM755 580h4v1h-4zM759 579h2v1h-2zM761 578h3v1h-3zM764 577h3v1h-3zM767 576h4v1h-4zM771 575h4v1h-4zM775 574h2v1h-2zM777 573h3v1h-3zM780 572h3v1h-3zM783 571h2v1h-2zM785 570h3v1h-3zM788 569h3v1h-3zM791 568h2v1h-2zM793 567h3v1h-3zM796 566h2v1h-2zM798 565h2v1h-2zM800 564h2v1h-2zM802 563h2v1h-2zM804 562h2v1h-2zM806 561h2v1h-2zM808 560h2v1h-2zM810 559h2v1h-2zM812 558h3v1h-3zM815 557h2v1h-2zM817 556h3v1h-3zM820 555h2v1h-2zM822 554h2v1h-2zM824 553h2v1h-2zM826 552h2v1h-2zM828 551h2v1h-2zM830 550h2v1h-2zM832 549h2v1h-2zM834 548h2v1h-2zM836 547h2v1h-2zM838 546h2v1h-2zM840 545h2v1h-2zM842 544h2v1h-2zM844 543h2v1h-2zM846 542h2v1h-2zM848 541h2v1h-2zM850 540h2v1h-2zM852 539h2v1h-2zM854 538h2v1h-2zM856 537h2v1h-2zM858 536h2v1h-2zM860 535h2v1h-2zM862 534h2v1h-2zM864 533h2v1h-2zM866 532h2v1h-2zM868 531h2v1h-2zM870 530h2v1h-2zM872 529h2v1h-2zM874 528h2v1h-2zM876 527h2v1h-2zM878 526h2v1h-2zM880 525h2v1h-2zM882 524h2v1h-2zM884 523h2v1h-2zM886 522h2v1h-2zM888 521h2v1h-2zM890 520h2v1h-2zM892 519h2v1h-2zM894 518h2v1h-2zM896 517h2v1h-2zM898 516h2v1h-2zM900 515h2v1h-2zM902 514h2v1h-2zM904 513h2v1h-2zM906 512h2v1h-2zM908 511h2v1h-2zM910 510h2v1h-2zM912 509h2v1h-2zM914 508h2v1h-2zM916 507h2v1h-2zM918 506h2v1h-2zM920 505h2v1h-2zM922 504h2v1h-2zM924 503h2v1h-2zM926 502h2v1h-2zM928 501h2v1h-2zM930 500h2v1h-2zM932 499h2v1h-2zM934 498h2v1h-2zM936 497h2v1h-2zM938 496h2v1h-2zM940 495h2v1h-2zM942 494h2v1h-2zM944 493h2v1h-2zM946 492h2v1h-2zM948 491h2v1h-2zM950 490h2v1h-2zM952 489h2v1h-2zM954 488h2v1h-2zM956 487h2v1h-2zM958 486h2v1h-2zM960 485h2v1h-2zM962 484h2v1h-2zM964 483h2v1h-2zM966 482h2v1h-2zM968 481h2v1h-2zM970 480h2v1h-2zM972 479h2v1h-2zM974 478h2v1h-2zM976 477h2v1h-2zM978 476h2v1h-2zM980 475h2v1h-2zM982 474h2v1h-2zM984 473h2v1h-2zM986 472h2v1h-2zM988 471h2v1h-2zM990 470h2v1h-2zM992 469h2v1h-2zM994 468h2v1h-2zM996 467h2v1h-2zM998 466h2v1h-2zM1000 465h2v1h-2zM1002 464h2v1h-2zM1004 463h2v1h-2zM1006 462h2v1h-2zM1008 461h2v1h-2zM1010 460h2v1h-2zM1012 459h3v1h-3zM1015 458h2v1h-2zM1017 457h3v1h-3zM1020 456h2v1h-2zM1022 455h2v1h-2zM1024 454h2v1h-2zM1026 453h2v1h-2zM1028 452h3v1h-3zM1031 451h2v1h-2zM1033 450h3v1h-3zM1036 449h3v1h-3zM1039 448h2v1h-2zM1041 447h3v1h-3zM1044 446h3v1h-3zM1047 445h2v1h-2zM1049 444h3v1h-3zM1052 443h3v1h-3zM1055 442h2v1h-2zM1057 441h3v1h-3zM1060 440h3v1h-3zM1063 439h4v1h-4zM1067 438h4v1h-4zM1071 437h2v1h-2zM1073 436h3v1h-3zM1076 435h3v1h-3zM1079 434h4v1h-4zM1083 433h4v1h-4zM1087 432h4v1h-4zM1091 431h4v1h-4zM1095 430h4v1h-4zM1099 429h4v1h-4zM1103 428h4v1h-4zM1107 427h6v1h-6zM1113 426h6v1h-6zM1119 425h4v1h-4zM1123 424h4v1h-4zM1127 423h4v1h-4zM1131 422h4v1h-4zM1135 421h4v1h-4zM1139 420h4v1h-4zM1143 419h4v1h-4zM1147 418h4v1h-4zM1151 417h4v1h-4zM1155 416h4v1h-4zM1159 415h4v1h-4zM1163 414h6v1h-6zM1169 413h8v1h-8zM1177 412h6v1h-6zM1183 411h4v1h-4zM1187 410h6v1h-6zM1193 409h8v1h-8zM1201 408h8v1h-8zM1209 407h8v1h-8zM1217 406h8v1h-8zM1225 405h8v1h-8zM1233 404h8v1h-8zM1241 403h6v1h-6zM1247 402h4v1h-4zM1251 401h4v1h-4zM1255 400h4v1h-4zM1259 399h4v1h-4zM1263 398h2v1h-2zM1265 397h3v1h-3zM1268 396h3v1h-3zM1271 395h4v1h-4zM1275 394h6v1h-6zM1281 393h6v1h-6zM1287 392h4v1h-4zM1291 391h4v1h-4zM1295 390h4v1h-4zM1299 389h4v1h-4zM1303 388h4v1h-4zM1307 387h6v1h-6zM1313 386h6v1h-6zM1319 385h4v1h-4zM1323 384h4v1h-4zM1327 383h4v1h-4zM1331 382h6v1h-6zM1337 381h6v1h-6zM1343 380h4v1h-4zM1347 379h6v1h-6zM1353 378h6v1h-6zM1359 377h4v1h-4zM1363 376h4v1h-4zM1367 375h4v1h-4zM1371 374h4v1h-4zM1375 373h2v1h-2zM1377 372h3v1h-3zM1380 371h3v1h-3zM1383 370h4v1h-4zM1387 369h6v1h-6zM1393 368h6v1h-6zM1399 367h4v1h-4zM1403 366h6v1h-6zM1409 365h6v1h-6zM1415 364h4v1h-4zM1419 363h6v1h-6zM1425 362h6v1h-6zM1431 361h4v1h-4zM1435 360h6v1h-6zM1441 359h8v1h-8zM1449 358h6v1h-6zM1455 357h4v1h-4zM1459 356h6v1h-6zM1465 355h8v1h-8zM1473 354h6v1h-6zM1479 353h4v1h-4zM1483 352h14v1h-14zM1497 351h8v1h-8zM1505 350h8v1h-8zM1513 349h16v1h-16zM1529 348h8v1h-8zM1537 347h8v1h-8zM1545 346h8v1h-8zM1553 345h8v1h-8zM1561 344h6v1h-6zM1567 343h4v1h-4zM1571 342h6v1h-6zM1577 341h6v1h-6zM1583 340h4v1h-4zM1587 339h4v1h-4zM1591 338h4v1h-4zM1595 337h4v1h-4zM1599 336h4v1h-4zM1603 335h4v1h-4zM1607 334h4v1h-4zM1611 333h4v1h-4zM1615 332h4v1h-4zM1619 331h4v1h-4zM1623 330h4v1h-4zM1627 329h4v1h-4zM1631 328h4v1h-4zM1635 327h4v1h-4zM1639 326h2v1h-2zM1641 325h3v1h-3zM1644 324h3v1h-3zM1647 323h4v1h-4zM1651 322h4v1h-4zM1655 321h4v1h-4zM1659 320h2v1h-2z"/>
<path clip-path="url(#cm)" fill="#FF00FF" shape-rendering="crispEdges" d="M5 538h2v1h-2zM7 537h2v1h-2zM9 536h3v1h-3zM12 535h29v1h-29zM41 536h6v1h-6zM47 537h4v1h-4zM51 538h6v1h-6zM57 539h16v1h-16zM73 538h8v1h-8zM81 537h8v1h-8zM89 536h6v1h-6zM95 535h4v1h-4zM99 534h6v1h-6zM105 533h6v1h-6zM111 532h4v1h-4zM115 531h4v1h-4zM119 530h4v1h-4zM123 529h6v1h-6zM129 528h6v1h-6zM135 527h4v1h-4zM139 526h6v1h-6zM145 525h6v1h-6zM151 524h4v1h-4zM155 523h4v1h-4zM159 522h4v1h-4zM163 521h3v1h-3zM166 520h2v1h-2zM168 519h2v1h-2zM170 518h2v1h-2zM172 517h3v1h-3zM175 516h2v1h-2zM177 515h3v1h-3zM180 514h3v1h-3zM183 513h2v1h-2zM185 512h3v1h-3zM188 511h3v1h-3zM191 510h2v1h-2zM193 509h3v1h-3zM196 508h2v1h-2zM198 507h2v1h-2zM200 506h2v1h-2zM202 505h2v1h-2zM204 504h3v1h-3zM207 503h2v1h-2zM209 502h3v1h-3zM212 501h2v1h-2zM214 500h2v1h-2zM216 499h2v1h-2zM218 498h2v1h-2zM220 497h2v1h-2zM222 496h2v1h-2zM224 495h2v1h-2zM226 494h2v1h-2zM228 493h3v1h-3zM231 492h4v1h-4zM235 491h4v1h-4zM239 490h4v1h-4zM243 489h4v1h-4zM247 488h4v1h-4zM251 487h6v1h-6zM257 486h8v1h-8zM265 485h8v1h-8zM273 484h16v1h-16zM289 483h8v1h-8zM297 482h16v1h-16zM313 481h16v1h-16zM329 480h32v1h-32zM361 479h6v1h-6zM367 478h4v1h-4zM371 477h4v1h-4zM375 476h4v1h-4zM379 475h4v1h-4zM383 474h4v1h-4zM387 473h4v1h-4zM391 472h4v1h-4zM395 471h4v1h-4zM399 470h4v1h-4zM403 469h3v1h-3zM406 468h2v1h-2zM408 467h2v1h-2zM410 466h2v1h-2zM412 465h3v1h-3zM415 464h2v1h-2zM417 463h3v1h-3zM420 462h2v1h-2zM422 461h2v1h-2zM424 460h2v1h-2zM426 459h2v1h-2zM428 458h3v1h-3zM431 457h2v1h-2zM433 456h3v1h-3zM436 455h3v1h-3zM439 454h2v1h-2zM441 453h3v1h-3zM444 452h2v1h-2zM446 451h2v1h-2zM448 450h2v1h-2zM450 449h2v1h-2zM452 448h2v1h-2zM454 447h2v1h-2zM456 446h2v1h-2zM458 445h2v1h-2zM460 444h2v1h-2zM462 443h2v1h-2zM464 442h2v1h-2zM466 441h2v1h-2zM468 440h2v1h-2zM470 439h2v1h-2zM472 438h2v1h-2zM474 437h2v1h-2zM476 436h3v1h-3zM479 435h2v1h-2zM481 434h3v1h-3zM484 433h2v1h-2zM486 432h2v1h-2zM488 431h2v1h-2zM490 430h2v1h-2zM492 429h2v1h-2zM494 428h2v1h-2zM496 427h2v1h-2zM498 426h2v1h-2zM500 425h2v1h-2zM502 424h2v1h-2zM504 423h2v1h-2zM506 422h2v1h-2zM508 421h2v1h-2zM510 420h2v1h-2zM512 419h2v1h-2zM514 418h2v1h-2zM516 417h2v1h-2zM518 416h2v1h-2zM520 415h2v1h-2zM522 414h2v1h-2zM524 413h2v1h-2zM526 412h2v1h-2zM528 411h2v1h-2zM530 410h2v1h-2zM532 409h2v1h-2zM534 408h2v1h-2zM536 407h2v1h-2zM538 406h2v1h-2zM540 405h2v1h-2zM542 404h2v1h-2zM544 403h1v1h-1zM545 402h2v1h-2zM547 401h2v1h-2zM549 400h1v1h-1zM550 399h2v1h-2zM552 398h2v1h-2zM554 397h2v1h-2zM556 396h2v1h-2zM558 395h2v1h-2zM560 394h2v1h-2zM562 393h2v1h-2zM564 392h3v1h-3zM567 391h2v1h-2zM569 390h3v1h-3zM572 389h3v1h-3zM575 388h2v1h-2zM577 387h3v1h-3zM580 386h3v1h-3zM583 385h2v1h-2zM585 384h3v1h-3zM588 383h3v1h-3zM591 382h2v1h-2zM593 381h3v1h-3zM596 380h3v1h-3zM599 379h4v1h-4zM603 378h4v1h-4zM607 377h4v1h-4zM611 376h6v1h-6zM617 375h8v1h-8zM625 374h6v1h-6zM631 373h4v1h-4zM635 372h4v1h-4zM639 371h4v1h-4zM643 370h4v1h-4zM647 369h2v1h-2zM649 368h3v1h-3zM652 367h3v1h-3zM655 366h2v1h-2zM657 365h3v1h-3zM660 364h3v1h-3zM663 363h4v1h-4zM667 362h4v1h-4zM671 361h2v1h-2zM673 360h3v1h-3zM676 359h3v1h-3zM679 358h2v1h-2zM681 357h3v1h-3zM684 356h3v1h-3zM687 355h2v1h-2zM689 354h3v1h-3zM692 353h5v1h-5zM697 352h6v1h-6zM703 351h4v1h-4zM707 350h4v1h-4zM711 349h4v1h-4zM715 348h4v1h-4zM719 347h4v1h-4zM723 346h6v1h-6zM729 345h8v1h-8zM737 344h8v1h-8zM745 343h8v1h-8zM753 342h6v1h-6zM759 341h4v1h-4zM763 340h4v1h-4zM767 339h4v1h-4zM771 338h12v1h-12zM783 337h4v1h-4zM787 336h6v1h-6zM793 335h8v1h-8zM801 334h8v1h-8zM809 333h8v1h-8zM817 332h16v1h-16zM833 331h8v1h-8zM841 330h56v1h-56zM897 329h8v1h-8zM905 328h16v1h-16zM921 327h8v1h-8zM929 326h8v1h-8zM937 325h8v1h-8zM945 324h8v1h-8zM953 323h8v1h-8zM961 322h8v1h-8zM969 321h8v1h-8zM977 320h16v1h-16zM993 319h8v1h-8zM1001 318h16v1h-16zM1017 317h8v1h-8zM1025 316h24v1h-24zM1049 315h8v1h-8zM1057 314h8v1h-8zM1065 313h8v1h-8zM1073 312h6v1h-6zM1079 313h4v1h-4zM1083 314h4v1h-4zM1087 315h4v1h-4zM1091 316h6v1h-6zM1097 317h8v1h-8zM1105 318h8v1h-8zM1113 319h8v1h-8zM1121 320h8v1h-8zM1129 321h8v1h-8zM1137 320h16v1h-16zM1153 319h30v1h-30zM1183 318h4v1h-4zM1187 317h14v1h-14zM1201 316h8v1h-8zM1209 315h6v1h-6zM1215 314h4v1h-4zM1219 313h6v1h-6zM1225 312h8v1h-8zM1233 311h8v1h-8zM1241 310h8v1h-8zM1249 309h8v1h-8zM1257 308h6v1h-6zM1263 307h4v1h-4zM1267 306h6v1h-6zM1273 305h6v1h-6zM1279 304h4v1h-4zM1283 303h4v1h-4zM1287 302h4v1h-4zM1291 301h4v1h-4zM1295 300h2v1h-2zM1297 299h3v1h-3zM1300 298h3v1h-3zM1303 297h2v1h-2zM1305 296h3v1h-3zM1308 295h3v1h-3zM1311 294h2v1h-2zM1313 293h3v1h-3zM1316 292h3v1h-3zM1319 291h2v1h-2zM1321 290h3v1h-3zM1324 289h3v1h-3zM1327 288h2v1h-2zM1329 287h3v1h-3zM1332 286h5v1h-5zM1337 285h8v1h-8zM1345 284h6v1h-6zM1351 283h4v1h-4zM1355 282h6v1h-6zM1361 281h6v1h-6zM1367 280h4v1h-4zM1371 279h6v1h-6zM1377 278h8v1h-8zM1385 277h8v1h-8zM1393 276h8v1h-8zM1401 275h16v1h-16zM1417 274h16v1h-16zM1433 273h8v1h-8zM1441 272h6v1h-6zM1447 271h4v1h-4zM1451 270h6v1h-6zM1457 269h6v1h-6zM1463 268h4v1h-4zM1467 267h4v1h-4zM1471 266h2v1h-2zM1473 265h3v1h-3zM1476 264h5v1h-5zM1481 263h8v1h-8zM1489 264h8v1h-8zM1497 265h22v1h-22zM1519 264h4v1h-4zM1523 263h6v1h-6zM1529 262h6v1h-6zM1535 261h4v1h-4zM1539 260h6v1h-6zM1545 259h16v1h-16zM1561 258h8v1h-8zM1569 257h6v1h-6zM1575 256h2v1h-2zM1577 255h3v1h-3zM1580 254h3v1h-3zM1583 253h4v1h-4zM1587 252h4v1h-4zM1591 251h2v1h-2zM1593 250h3v1h-3zM1596 249h3v1h-3zM1599 248h2v1h-2zM1601 247h3v1h-3zM1604 246h3v1h-3zM1607 245h2v1h-2zM1609 244h3v1h-3zM1612 243h3v1h-3zM1615 242h4v1h-4zM1619 241h3v1h-3zM1622 240h2v1h-2zM1624 239h2v1h-2zM1626 238h2v1h-2zM1628 237h2v1h-2zM1630 236h2v1h-2zM1632 235h2v1h-2zM1634 234h2v1h-2zM1636 233h2v1h-2zM1638 232h2v1h-2zM1640 231h2v1h-2zM1642 230h2v1h-2zM1644 229h2v1h-2zM1646 228h2v1h-2zM1648 227h2v1h-2zM1650 226h2v1h-2zM1652 225h2v1h-2zM1654 224h2v1h-2zM1656 223h1v1h-1zM1657 222h2v1h-2zM1659 221h2v1h-2z"/>
<path clip-path="url(#cm)" fill="#FFA500" shape-rendering="crispEdges" d="M5 485h1v1h-1zM6 486h2v1h-2zM8 487h2v1h-2zM10 488h2v1h-2zM12 489h2v1h-2zM14 490h1v1h-1zM15 491h1v1h-1zM16 492h1v1h-1zM17 493h2v1h-2zM19 494h1v1h-1zM20 495h1v1h-1zM21 496h1v1h-1zM22 497h1v1h-1zM23 498h2v1h-2zM25 499h1v1h-1zM26 500h1v1h-1zM27 501h2v1h-2zM29 502h1v1h-1zM30 503h2v1h-2zM32 504h2v1h-2zM34 505h2v1h-2zM36 506h2v1h-2zM38 507h2v1h-2zM40 508h2v1h-2zM42 509h2v1h-2zM44 510h2v1h-2zM46 511h2v1h-2zM48 512h2v1h-2zM50 513h2v1h-2zM52 514h2v1h-2zM54 515h2v1h-2zM56 516h2v1h-2zM58 517h2v1h-2zM60 518h2v1h-2zM62 519h1v1h-1zM63 520h2v1h-2zM65 521h1v1h-1zM66 522h1v1h-1zM67 523h2v1h-2zM69 524h1v1h-1zM70 525h2v1h-2zM72 526h1v1h-1zM73 527h2v1h-2zM75 528h2v1h-2zM77 529h1v1h-1zM78 530h2v1h-2zM80 531h1v1h-1zM81 532h2v1h-2zM83 533h2v1h-2zM85 534h2v1h-2zM87 535h4v1h-4zM91 536h4v1h-4zM95 537h2v1h-2zM97 538h3v1h-3zM100 539h2v1h-2zM102 540h2v1h-2zM104 541h2v1h-2zM106 542h2v1h-2zM108 543h3v1h-3zM111 544h2v1h-2zM113 545h3v1h-3zM116 546h3v1h-3zM119 547h4v1h-4zM123 548h11v1h-11zM134 547h2v1h-2zM136 546h2v1h-2zM138 545h2v1h-2zM140 544h2v1h-2zM142 543h2v1h-2zM144 542h2v1h-2zM146 541h2v1h-2zM148 540h2v1h-2zM150 539h2v1h-2zM152 538h1v1h-1zM153 537h2v1h-2zM155 536h2v1h-2zM157 535h1v1h-1zM158 534h1v1h-1zM159 533h1v1h-1zM160 532h1v1h-1zM161 531h2v1h-2zM163 530h1v1h-1zM164 529h1v1h-1zM165 528h1v1h-1zM166 527h1v1h-1zM167 526h1v1h-1zM168 525h1v1h-1zM169 524h2v1h-2zM171 523h1v1h-1zM172 522h1v1h-1zM173 521h1v1h-1zM174 520h1v1h-1zM175 519h1v1h-1zM176 518h1v1h-1zM177 517h2v1h-2zM179 516h1v1h-1zM180 515h1v1h-1zM181 514h1v1h-1zM182 513h1v1h-1zM183 512h1v1h-1zM184 511h1v1h-1zM185 510h1v1h-1zM186 509h1v1h-1zM187 508h1v1h-1zM188 507h1v1h-1zM189 506h1v1h-1zM190 505h1v1h-1zM191 504h1v1h-1zM192 503h1v1h-1zM193 502h2v1h-2zM195 501h1v1h-1zM196 500h1v1h-1zM197 499h1v1h-1zM198 498h1v1h-1zM199 497h2v1h-2zM201 496h1v1h-1zM202 495h1v1h-1zM203 494h2v1h-2zM205 493h1v1h-1zM206 492h2v1h-2zM208 491h2v1h-2zM210 490h2v1h-2zM212 489h2v1h-2zM214 488h1v1h-1zM215 487h2v1h-2zM217 486h1v1h-1zM218 485h1v1h-1zM219 484h2v1h-2zM221 483h1v1h-1zM222 482h1v1h-1zM223 481h2v1h-2zM225 480h1v1h-1zM226 479h1v1h-1zM227 478h2v1h-2zM229 477h1v1h-1zM230 476h1v1h-1zM231 475h1v1h-1zM232 474h1v1h-1zM233 473h1v1h-1zM233 472h1v1h-1zM234 471h1v1h-1zM235 470h1v1h-1zM236 469h1v1h-1zM237 468h1v1h-1zM238 467h1v1h-1zM239 466h1v1h-1zM240 465h1v1h-1zM241 464h2v1h-2zM243 463h1v1h-1zM244 462h1v1h-1zM245 461h1v1h-1zM246 460h1v1h-1zM247 459h2v1h-2zM249 458h1v1h-1zM250 457h1v1h-1zM251 456h2v1h-2zM253 455h1v1h-1zM254 454h2v1h-2zM256 453h2v1h-2zM258 452h2v1h-2zM260 451h2v1h-2zM262 450h2v1h-2zM264 449h1v1h-1zM265 448h2v1h-2zM267 447h2v1h-2zM269 446h1v1h-1zM270 445h2v1h-2zM272 444h2v1h-2zM274 443h2v1h-2zM276 442h2v1h-2zM278 441h2v1h-2zM280 440h1v1h-1zM281 439h2v1h-2zM283 438h2v1h-2zM285 437h1v1h-1zM286 436h2v1h-2zM288 435h2v1h-2zM290 434h2v1h-2zM292 433h2v1h-2zM294 432h2v1h-2zM296 431h2v1h-2zM298 430h2v1h-2zM300 429h3v1h-3zM303 428h2v1h-2zM305 427h3v1h-3zM308 426h2v1h-2zM310 425h2v1h-2zM312 424h2v1h-2zM314 423h2v1h-2zM316 422h5v1h-5zM321 421h6v1h-6zM327 422h4v1h-4zM331 423h4v1h-4zM335 424h4v1h-4zM339 425h4v1h-4zM343 426h2v1h-2zM345 427h3v1h-3zM348 428h3v1h-3zM351 429h4v1h-4zM355 430h6v1h-6zM361 429h5v1h-5zM366 428h2v1h-2zM368 427h2v1h-2zM370 426h2v1h-2zM372 425h3v1h-3zM375 424h4v1h-4zM379 423h4v1h-4zM383 422h2v1h-2zM385 421h3v1h-3zM388 420h3v1h-3zM391 419h2v1h-2zM393 418h3v1h-3zM396 417h3v1h-3zM399 416h2v1h-2zM401 415h3v1h-3zM404 414h3v1h-3zM407 413h2v1h-2zM409 412h3v1h-3zM412 411h3v1h-3zM415 410h4v1h-4zM419 409h3v1h-3zM422 408h2v1h-2zM424 407h2v1h-2zM426 406h2v1h-2zM428 405h3v1h-3zM431 404h2v1h-2zM433 403h3v1h-3zM436 402h3v1h-3zM439 401h2v1h-2zM441 400h3v1h-3zM444 399h2v1h-2zM446 398h2v1h-2zM448 397h2v1h-2zM450 396h2v1h-2zM452 395h3v1h-3zM455 394h2v1h-2zM457 393h3v1h-3zM460 392h3v1h-3zM463 391h2v1h-2zM465 390h3v1h-3zM468 389h3v1h-3zM471 388h2v1h-2zM473 387h3v1h-3zM476 386h3v1h-3zM479 385h4v1h-4zM483 384h3v1h-3zM486 383h2v1h-2zM488 382h1v1h-1zM489 381h2v1h-2zM491 380h2v1h-2zM493 379h1v1h-1zM494 378h1v1h-1zM495 377h2v1h-2zM497 376h1v1h-1zM498 375h1v1h-1zM499 374h2v1h-2zM501 373h1v1h-1zM502 372h2v1h-2zM504 371h1v1h-1zM505 370h2v1h-2zM507 369h2v1h-2zM509 368h1v1h-1zM510 367h2v1h-2zM512 366h1v1h-1zM513 365h2v1h-2zM515 364h2v1h-2zM517 363h1v1h-1zM518 362h2v1h-2zM520 361h1v1h-1zM521 360h2v1h-2zM523 359h2v1h-2zM525 358h1v1h-1zM526 357h2v1h-2zM528 356h2v1h-2zM530 355h2v1h-2zM532 354h3v1h-3zM535 353h2v1h-2zM537 352h3v1h-3zM540 351h2v1h-2zM542 350h2v1h-2zM544 349h2v1h-2zM546 348h2v1h-2zM548 347h3v1h-3zM551 346h4v1h-4zM555 345h3v1h-3zM558 344h2v1h-2zM560 343h2v1h-2zM562 342h2v1h-2zM564 341h3v1h-3zM567 340h4v1h-4zM571 339h4v1h-4zM575 338h2v1h-2zM577 337h3v1h-3zM580 336h3v1h-3zM583 335h2v1h-2zM585 334h3v1h-3zM588 333h2v1h-2zM590 332h2v1h-2zM592 331h2v1h-2zM594 330h2v1h-2zM596 329h3v1h-3zM599 328h2v1h-2zM601 327h3v1h-3zM604 326h3v1h-3zM607 325h4v1h-4zM611 324h6v1h-6zM617 323h8v1h-8zM625 322h14v1h-14zM639 321h4v1h-4zM643 320h3v1h-3zM646 319h2v1h-2zM648 318h2v1h-2zM650 317h2v1h-2zM652 316h3v1h-3zM655 315h2v1h-2zM657 314h3v1h-3zM660 313h3v1h-3zM663 312h2v1h-2zM665 311h3v1h-3zM668 310h3v1h-3zM671 309h2v1h-2zM673 308h3v1h-3zM676 307h2v1h-2zM678 306h2v1h-2zM680 305h2v1h-2zM682 304h2v1h-2zM684 303h3v1h-3zM687 302h2v1h-2zM689 301h3v1h-3zM692 300h5v1h-5zM697 301h6v1h-6zM703 302h4v1h-4zM707 303h4v1h-4zM711 304h4v1h-4zM715 305h4v1h-4zM719 306h4v1h-4zM723 307h4v1h-4zM727 308h4v1h-4zM731 309h6v1h-6zM737 310h6v1h-6zM743 311h2v1h-2zM745 312h3v1h-3zM748 313h3v1h-3zM751 314h4v1h-4zM755 315h4v1h-4zM759 316h4v1h-4zM763 317h4v1h-4zM767 318h4v1h-4zM771 319h3v1h-3zM774 320h2v1h-2zM776 321h2v1h-2zM778 322h2v1h-2zM780 323h3v1h-3zM783 324h2v1h-2zM785 325h3v1h-3zM788 326h3v1h-3zM791 327h4v1h-4zM795 328h12v1h-12zM807 329h4v1h-4zM811 330h4v1h-4zM815 331h4v1h-4zM819 332h4v1h-4zM823 333h4v1h-4zM827 334h4v1h-4zM831 335h4v1h-4zM835 336h4v1h-4zM839 337h4v1h-4zM843 338h3v1h-3zM846 339h2v1h-2zM848 340h2v1h-2zM850 341h2v1h-2zM852 342h2v1h-2zM854 343h2v1h-2zM856 344h1v1h-1zM857 345h2v1h-2zM859 346h2v1h-2zM861 347h4v1h-4zM865 348h6v1h-6zM871 349h4v1h-4zM875 350h6v1h-6zM881 351h16v1h-16zM897 350h6v1h-6zM903 349h4v1h-4zM907 348h4v1h-4zM911 347h4v1h-4zM915 346h6v1h-6zM921 345h5v1h-5zM926 344h2v1h-2zM928 343h2v1h-2zM930 342h2v1h-2zM932 341h3v1h-3zM935 340h4v1h-4zM939 339h3v1h-3zM942 338h1v1h-1zM943 337h2v1h-2zM945 336h1v1h-1zM946 335h1v1h-1zM947 334h2v1h-2zM949 333h1v1h-1zM950 332h2v1h-2zM952 331h2v1h-2zM954 330h2v1h-2zM956 329h2v1h-2zM958 328h2v1h-2zM960 327h2v1h-2zM962 326h2v1h-2zM964 325h2v1h-2zM966 324h2v1h-2zM968 323h1v1h-1zM969 322h2v1h-2zM971 321h2v1h-2zM973 320h1v1h-1zM974 319h2v1h-2zM976 318h2v1h-2zM978 317h2v1h-2zM980 316h3v1h-3zM983 315h4v1h-4zM987 314h4v1h-4zM991 313h2v1h-2zM993 312h3v1h-3zM996 311h3v1h-3zM999 310h4v1h-4zM1003 309h4v1h-4zM1007 308h2v1h-2zM1009 307h3v1h-3zM1012 306h3v1h-3zM1015 305h2v1h-2zM1017 304h3v1h-3zM1020 303h2v1h-2zM1022 302h1v1h-1zM1023 301h2v1h-2zM1025 300h1v1h-1zM1026 299h1v1h-1zM1027 298h2v1h-2zM1029 297h1v1h-1zM1030 296h2v1h-2zM1032 295h1v1h-1zM1033 294h2v1h-2zM1035 293h2v1h-2zM1037 292h2v1h-2zM1039 291h2v1h-2zM1041 290h3v1h-3zM1044 289h2v1h-2zM1046 288h2v1h-2zM1048 287h2v1h-2zM1050 286h2v1h-2zM1052 285h2v1h-2zM1054 284h2v1h-2zM1056 283h2v1h-2zM1058 282h2v1h-2zM1060 281h18v1h-18zM1078 282h2v1h-2zM1080 283h2v1h-2zM1082 284h2v1h-2zM1084 285h2v1h-2zM1086 286h2v1h-2zM1088 287h2v1h-2zM1090 288h2v1h-2zM1092 289h3v1h-3zM1095 290h4v1h-4zM1099 291h12v1h-12zM1111 292h4v1h-4zM1115 293h4v1h-4zM1119 294h4v1h-4zM1123 295h6v1h-6zM1129 296h6v1h-6zM1135 297h2v1h-2zM1137 298h3v1h-3zM1140 299h3v1h-3zM1143 300h2v1h-2zM1145 301h3v1h-3zM1148 302h3v1h-3zM1151 303h4v1h-4zM1155 304h3v1h-3zM1158 305h2v1h-2zM1160 306h2v1h-2zM1162 307h2v1h-2zM1164 308h3v1h-3zM1167 309h2v1h-2zM1169 310h3v1h-3zM1172 311h3v1h-3zM1175 312h4v1h-4zM1179 313h6v1h-6zM1185 314h6v1h-6zM1191 315h2v1h-2zM1193 316h3v1h-3zM1196 317h5v1h-5zM1201 318h8v1h-8zM1209 317h6v1h-6zM1215 318h4v1h-4zM1219 319h4v1h-4zM1223 320h4v1h-4zM1227 321h6v1h-6zM1233 322h13v1h-13zM1246 321h1v1h-1zM1247 320h2v1h-2zM1249 319h1v1h-1zM1250 318h1v1h-1zM1251 317h2v1h-2zM1253 316h1v1h-1zM1254 315h1v1h-1zM1255 314h1v1h-1zM1256 313h1v1h-1zM1257 312h1v1h-1zM1258 311h1v1h-1zM1259 310h1v1h-1zM1260 309h1v1h-1zM1261 308h2v1h-2zM1263 307h2v1h-2zM1265 306h3v1h-3zM1268 305h3v1h-3zM1271 304h2v1h-2zM1273 303h3v1h-3zM1276 302h2v1h-2zM1278 301h2v1h-2zM1280 300h1v1h-1zM1281 299h2v1h-2zM1283 298h2v1h-2zM1285 297h1v1h-1zM1286 296h2v1h-2zM1288 295h1v1h-1zM1289 294h2v1h-2zM1291 293h2v1h-2zM1293 292h1v1h-1zM1294 291h2v1h-2zM1296 290h2v1h-2zM1298 289h2v1h-2zM1300 288h2v1h-2zM1302 287h1v1h-1zM1303 286h2v1h-2zM1305 285h1v1h-1zM1306 284h1v1h-1zM1307 283h2v1h-2zM1309 282h1v1h-1zM1310 281h1v1h-1zM1311 280h2v1h-2zM1313 279h1v1h-1zM1314 278h1v1h-1zM1315 277h2v1h-2zM1317 276h1v1h-1zM1318 275h1v1h-1zM1319 274h2v1h-2zM1321 273h1v1h-1zM1322 272h1v1h-1zM1323 271h2v1h-2zM1325 270h1v1h-1zM1326 269h1v1h-1zM1327 268h2v1h-2zM1329 267h1v1h-1zM1330 266h1v1h-1zM1331 265h2v1h-2zM1333 264h2v1h-2zM1335 263h2v1h-2zM1337 262h3v1h-3zM1340 261h2v1h-2zM1342 260h2v1h-2zM1344 259h2v1h-2zM1346 258h2v1h-2zM1348 257h3v1h-3zM1351 256h2v1h-2zM1353 255h3v1h-3zM1356 254h3v1h-3zM1359 253h2v1h-2zM1361 252h3v1h-3zM1364 251h2v1h-2zM1366 250h2v1h-2zM1368 249h1v1h-1zM1369 248h2v1h-2zM1371 247h2v1h-2zM1373 246h1v1h-1zM1374 245h2v1h-2zM1376 244h2v1h-2zM1378 243h2v1h-2zM1380 242h2v1h-2zM1382 241h2v1h-2zM1384 240h2v1h-2zM1386 239h2v1h-2zM1388 238h3v1h-3zM1391 237h2v1h-2zM1393 236h3v1h-3zM1396 235h2v1h-2zM1398 234h2v1h-2zM1400 233h2v1h-2zM1402 232h2v1h-2zM1404 231h3v1h-3zM1407 230h2v1h-2zM1409 229h3v1h-3zM1412 228h3v1h-3zM1415 227h4v1h-4zM1419 226h12v1h-12zM1431 225h4v1h-4zM1435 224h4v1h-4zM1439 223h2v1h-2zM1441 222h3v1h-3zM1444 221h3v1h-3zM1447 220h4v1h-4zM1451 219h4v1h-4zM1455 218h4v1h-4zM1459 217h4v1h-4zM1463 216h4v1h-4zM1467 215h4v1h-4zM1471 214h2v1h-2zM1473 213h3v1h-3zM1476 212h2v1h-2zM1478 213h2v1h-2zM1480 214h2v1h-2zM1482 215h2v1h-2zM1484 216h2v1h-2zM1486 217h1v1h-1zM1487 218h2v1h-2zM1489 219h1v1h-1zM1490 220h1v1h-1zM1491 221h2v1h-2zM1493 222h2v1h-2zM1495 223h2v1h-2zM1497 224h3v1h-3zM1500 225h3v1h-3zM1503 226h2v1h-2zM1505 227h3v1h-3zM1508 228h2v1h-2zM1510 229h2v1h-2zM1512 230h2v1h-2zM1514 231h2v1h-2zM1516 232h3v1h-3zM1519 233h2v1h-2zM1521 234h3v1h-3zM1524 235h2v1h-2zM1526 236h2v1h-2zM1528 237h2v1h-2zM1530 238h2v1h-2zM1532 239h5v1h-5zM1537 240h6v1h-6zM1543 241h4v1h-4zM1547 242h4v1h-4zM1551 243h2v1h-2zM1553 244h3v1h-3zM1556 245h3v1h-3zM1559 246h4v1h-4zM1563 247h6v1h-6zM1569 248h6v1h-6zM1575 247h2v1h-2zM1577 246h3v1h-3zM1580 245h3v1h-3zM1583 244h4v1h-4zM1587 243h4v1h-4zM1591 242h2v1h-2zM1593 241h3v1h-3zM1596 240h3v1h-3zM1599 239h4v1h-4zM1603 238h4v1h-4zM1607 237h4v1h-4zM1611 236h11v1h-11zM1622 235h2v1h-2zM1624 234h1v1h-1zM1625 233h2v1h-2zM1627 232h2v1h-2zM1629 231h2v1h-2zM1631 230h2v1h-2zM1633 229h3v1h-3zM1636 228h3v1h-3zM1639 227h2v1h-2zM1641 226h3v1h-3zM1644 225h2v1h-2zM1646 224h1v1h-1zM1647 223h1v1h-1zM1648 222h1v1h-1zM1649 221h1v1h-1zM1649 220h1v1h-1zM1650 219h1v1h-1zM1651 218h1v1h-1zM1652 217h1v1h-1zM1653 216h1v1h-1zM1654 215h1v1h-1zM1654 214h1v1h-1zM1655 213h1v1h-1zM1656 212h1v1h-1zM1656 211h1v1h-1zM1657 210h1v1h-1zM1658 209h1v1h-1zM1658 208h1v1h-1zM1659 207h1v1h-1zM1660 206h1v1h-1zM1660 205h1v1h-1z"/>
<g shape-rendering="crispEdges">
<rect x="5" y="62" width="1675" height="2" fill="#FF0000"/>
<rect x="4" y="60" width="6" height="6" fill="#FF0000"/><rect x="6" y="62" width="2" height="2" fill="#fff"/>
<rect x="1674" y="60" width="6" height="6" fill="#FF0000"/><rect x="1676" y="62" width="2" height="2" fill="#fff"/>
<rect x="5" y="222" width="1675" height="2" fill="#32CD32"/>
<rect x="4" y="220" width="6" height="6" fill="#32CD32"/><rect x="6" y="222" width="2" height="2" fill="#fff"/>
<rect x="1674" y="220" width="6" height="6" fill="#32CD32"/><rect x="1676" y="222" width="2" height="2" fill="#fff"/>
<rect x="5" y="322" width="1675" height="2" fill="#4169E1"/>
<rect x="4" y="320" width="6" height="6" fill="#4169E1"/><rect x="6" y="322" width="2" height="2" fill="#fff"/>
<rect x="1674" y="320" width="6" height="6" fill="#4169E1"/><rect x="1676" y="322" width="2" height="2" fill="#fff"/>
<rect x="5" y="461" width="1675" height="2" fill="#4169E1"/>
</g>
<g shape-rendering="crispEdges" fill="#000">
<rect x="4" y="35" width="1677" height="1"/>
<rect x="4" y="612" width="1677" height="1"/>
<rect x="4" y="614" width="1677" height="1"/>
<rect x="4" y="756" width="1677" height="1"/>
<rect x="4" y="758" width="1677" height="1"/>
<rect x="4" y="878" width="1677" height="1"/>
<rect x="4" y="35" width="1" height="578"/>
<rect x="1680" y="35" width="1" height="578"/>
<rect x="4" y="614" width="1" height="143"/>
<rect x="1680" y="614" width="1" height="143"/>
<rect x="4" y="758" width="1" height="121"/>
<rect x="1680" y="758" width="1" height="121"/>
</g>
<g shape-rendering="crispEdges" fill="#000">
<rect x="1681" y="48" width="2" height="1"/>
<rect x="1681" y="81" width="2" height="1"/>
<rect x="1681" y="114" width="2" height="1"/>
<rect x="1681" y="147" width="2" height="1"/>
<rect x="1681" y="180" width="2" height="1"/>
<rect x="1681" y="213" width="2" height="1"/>
<rect x="1681" y="246" width="2" height="1"/>
<rect x="1681" y="279" width="2" height="1"/>
<rect x="1681" y="312" width="2" height="1"/>
<rect x="1681" y="345" width="2" height="1"/>
<rect x="1681" y="378" width="2" height="1"/>
<rect x="1681" y="411" width="2" height="1"/>
<rect x="1681" y="444" width="2" height="1"/>
<rect x="1681" y="477" width="2" height="1"/>
<rect x="1681" y="510" width="2" height="1"/>
<rect x="1681" y="543" width="2" height="1"/>
<rect x="1681" y="576" width="2" height="1"/>
<rect x="1681" y="609" width="2" height="1"/>
<rect x="1681" y="716" width="2" height="1"/>
<rect x="1681" y="760" width="2" height="1"/>
<rect x="1681" y="795" width="2" height="1"/>
<rect x="1681" y="842" width="2" height="1"/>
<rect x="1681" y="878" width="2" height="1"/>
</g>
<text x="1686" y="52" font-size="10" fill="#000" text-anchor="start" textLength="38" lengthAdjust="spacingAndGlyphs" >3817.450</text>
<text x="1686" y="85" font-size="10" fill="#000" text-anchor="start" textLength="38" lengthAdjust="spacingAndGlyphs" >3801.115</text>
<text x="1686" y="118" font-size="10" fill="#000" text-anchor="start" textLength="38" lengthAdjust="spacingAndGlyphs" >3784.780</text>
<text x="1686" y="151" font-size="10" fill="#000" text-anchor="start" textLength="38" lengthAdjust="spacingAndGlyphs" >3767.950</text>
<text x="1686" y="184" font-size="10" fill="#000" text-anchor="start" textLength="38" lengthAdjust="spacingAndGlyphs" >3751.615</text>
<text x="1686" y="217" font-size="10" fill="#000" text-anchor="start" textLength="38" lengthAdjust="spacingAndGlyphs" >3734.785</text>
<text x="1686" y="250" font-size="10" fill="#000" text-anchor="start" textLength="38" lengthAdjust="spacingAndGlyphs" >3718.450</text>
<text x="1686" y="283" font-size="10" fill="#000" text-anchor="start" textLength="38" lengthAdjust="spacingAndGlyphs" >3702.115</text>
<text x="1686" y="316" font-size="10" fill="#000" text-anchor="start" textLength="38" lengthAdjust="spacingAndGlyphs" >3685.285</text>
<text x="1686" y="349" font-size="10" fill="#000" text-anchor="start" textLength="38" lengthAdjust="spacingAndGlyphs" >3668.950</text>
<text x="1686" y="382" font-size="10" fill="#000" text-anchor="start" textLength="38" lengthAdjust="spacingAndGlyphs" >3652.120</text>
<text x="1686" y="415" font-size="10" fill="#000" text-anchor="start" textLength="38" lengthAdjust="spacingAndGlyphs" >3635.785</text>
<text x="1686" y="448" font-size="10" fill="#000" text-anchor="start" textLength="38" lengthAdjust="spacingAndGlyphs" >3619.450</text>
<text x="1686" y="481" font-size="10" fill="#000" text-anchor="start" textLength="38" lengthAdjust="spacingAndGlyphs" >3602.620</text>
<text x="1686" y="514" font-size="10" fill="#000" text-anchor="start" textLength="38" lengthAdjust="spacingAndGlyphs" >3586.285</text>
<text x="1686" y="547" font-size="10" fill="#000" text-anchor="start" textLength="38" lengthAdjust="spacingAndGlyphs" >3569.455</text>
<text x="1686" y="580" font-size="10" fill="#000" text-anchor="start" textLength="38" lengthAdjust="spacingAndGlyphs" >3553.120</text>
<text x="1686" y="613" font-size="10" fill="#000" text-anchor="start" textLength="38" lengthAdjust="spacingAndGlyphs" >3536.785</text>
<g shape-rendering="crispEdges">
<rect x="1682" y="61" width="46" height="11" fill="#000"/>
</g>
<text x="1686" y="70" font-size="10" fill="#fff" text-anchor="start" textLength="38" lengthAdjust="spacingAndGlyphs" >3808.750</text>
<g shape-rendering="crispEdges">
<rect x="1682" y="57" width="46" height="11" fill="#FF0000"/>
<rect x="1682" y="217" width="46" height="11" fill="#32CD32"/>
<rect x="1682" y="317" width="46" height="11" fill="#4169E1"/>
<rect x="1682" y="456" width="46" height="11" fill="#4169E1"/>
</g>
<text x="1686" y="66" font-size="10" fill="#fff" text-anchor="start" textLength="38" lengthAdjust="spacingAndGlyphs" >3810.000</text>
<text x="1686" y="226" font-size="10" fill="#fff" text-anchor="start" textLength="38" lengthAdjust="spacingAndGlyphs" >3730.000</text>
<text x="1686" y="326" font-size="10" fill="#fff" text-anchor="start" textLength="38" lengthAdjust="spacingAndGlyphs" >3680.000</text>
<text x="1686" y="465" font-size="10" fill="#fff" text-anchor="start" textLength="38" lengthAdjust="spacingAndGlyphs" >3610.000</text>
<text x="1684.5" y="625" font-size="10" fill="#000" text-anchor="start" textLength="33" lengthAdjust="spacingAndGlyphs" >23.6465</text>
<text x="1684.5" y="720" font-size="10" fill="#000" text-anchor="start" textLength="18" lengthAdjust="spacingAndGlyphs" >0.00</text>
<text x="1684.5" y="753" font-size="10" fill="#000" text-anchor="start" textLength="35" lengthAdjust="spacingAndGlyphs" >-9.3786</text>
<text x="1684.5" y="769" font-size="10" fill="#000" text-anchor="start" textLength="16" lengthAdjust="spacingAndGlyphs" >100</text>
<text x="1684.5" y="799" font-size="10" fill="#000" text-anchor="start" textLength="11" lengthAdjust="spacingAndGlyphs" >70</text>
<text x="1684.5" y="846" font-size="10" fill="#000" text-anchor="start" textLength="11" lengthAdjust="spacingAndGlyphs" >30</text>
<text x="1684.5" y="875" font-size="10" fill="#000" text-anchor="start" textLength="6" lengthAdjust="spacingAndGlyphs" >0</text>
<path d="M8 42 L15 42 L11.5 46 Z" fill="#000"/>
<text x="20" y="47" font-size="10" fill="#000" text-anchor="start" textLength="211" lengthAdjust="spacingAndGlyphs" >SP500-,H4&#160; 3798.750 3810.000 3796.250 3808.750</text>
<g clip-path="url(#cmacd)" shape-rendering="crispEdges" fill="#C0C0C0">
<rect x="5" y="716" width="1" height="11"/>
<rect x="13" y="716" width="1" height="12"/>
<rect x="21" y="716" width="1" height="21"/>
<rect x="29" y="716" width="1" height="26"/>
<rect x="37" y="716" width="1" height="28"/>
<rect x="45" y="716" width="1" height="21"/>
<rect x="53" y="716" width="1" height="21"/>
<rect x="61" y="716" width="1" height="22"/>
<rect x="69" y="716" width="1" height="29"/>
<rect x="77" y="716" width="1" height="29"/>
<rect x="85" y="716" width="1" height="28"/>
<rect x="93" y="716" width="1" height="23"/>
<rect x="101" y="716" width="1" height="20"/>
<rect x="109" y="716" width="1" height="17"/>
<rect x="117" y="716" width="1" height="13"/>
<rect x="125" y="716" width="1" height="5"/>
<rect x="133" y="710" width="1" height="7"/>
<rect x="141" y="703" width="1" height="14"/>
<rect x="149" y="697" width="1" height="20"/>
<rect x="157" y="688" width="1" height="29"/>
<rect x="165" y="676" width="1" height="41"/>
<rect x="173" y="663" width="1" height="54"/>
<rect x="181" y="653" width="1" height="64"/>
<rect x="189" y="647" width="1" height="70"/>
<rect x="197" y="647" width="1" height="70"/>
<rect x="205" y="650" width="1" height="67"/>
<rect x="213" y="652" width="1" height="65"/>
<rect x="221" y="652" width="1" height="65"/>
<rect x="229" y="654" width="1" height="63"/>
<rect x="237" y="654" width="1" height="63"/>
<rect x="245" y="657" width="1" height="60"/>
<rect x="253" y="660" width="1" height="57"/>
<rect x="261" y="667" width="1" height="50"/>
<rect x="269" y="672" width="1" height="45"/>
<rect x="277" y="676" width="1" height="41"/>
<rect x="285" y="678" width="1" height="39"/>
<rect x="293" y="677" width="1" height="40"/>
<rect x="301" y="675" width="1" height="42"/>
<rect x="309" y="675" width="1" height="42"/>
<rect x="317" y="674" width="1" height="43"/>
<rect x="325" y="679" width="1" height="38"/>
<rect x="333" y="687" width="1" height="30"/>
<rect x="341" y="691" width="1" height="26"/>
<rect x="349" y="699" width="1" height="18"/>
<rect x="357" y="701" width="1" height="16"/>
<rect x="365" y="697" width="1" height="20"/>
<rect x="373" y="689" width="1" height="28"/>
<rect x="381" y="683" width="1" height="34"/>
<rect x="389" y="676" width="1" height="41"/>
<rect x="397" y="671" width="1" height="46"/>
<rect x="405" y="665" width="1" height="52"/>
<rect x="413" y="665" width="1" height="52"/>
<rect x="421" y="668" width="1" height="49"/>
<rect x="429" y="670" width="1" height="47"/>
<rect x="437" y="672" width="1" height="45"/>
<rect x="445" y="672" width="1" height="45"/>
<rect x="453" y="670" width="1" height="47"/>
<rect x="461" y="668" width="1" height="49"/>
<rect x="469" y="668" width="1" height="49"/>
<rect x="477" y="668" width="1" height="49"/>
<rect x="485" y="669" width="1" height="48"/>
<rect x="493" y="669" width="1" height="48"/>
<rect x="501" y="667" width="1" height="50"/>
<rect x="509" y="668" width="1" height="49"/>
<rect x="517" y="671" width="1" height="46"/>
<rect x="525" y="672" width="1" height="45"/>
<rect x="533" y="673" width="1" height="44"/>
<rect x="541" y="669" width="1" height="48"/>
<rect x="549" y="665" width="1" height="52"/>
<rect x="557" y="664" width="1" height="53"/>
<rect x="565" y="660" width="1" height="57"/>
<rect x="573" y="663" width="1" height="54"/>
<rect x="581" y="663" width="1" height="54"/>
<rect x="589" y="665" width="1" height="52"/>
<rect x="597" y="666" width="1" height="51"/>
<rect x="605" y="671" width="1" height="46"/>
<rect x="613" y="675" width="1" height="42"/>
<rect x="621" y="680" width="1" height="37"/>
<rect x="629" y="684" width="1" height="33"/>
<rect x="637" y="692" width="1" height="25"/>
<rect x="645" y="691" width="1" height="26"/>
<rect x="653" y="686" width="1" height="31"/>
<rect x="661" y="680" width="1" height="37"/>
<rect x="669" y="677" width="1" height="40"/>
<rect x="677" y="674" width="1" height="43"/>
<rect x="685" y="672" width="1" height="45"/>
<rect x="693" y="675" width="1" height="42"/>
<rect x="701" y="687" width="1" height="30"/>
<rect x="709" y="696" width="1" height="21"/>
<rect x="717" y="704" width="1" height="13"/>
<rect x="725" y="710" width="1" height="7"/>
<rect x="733" y="714" width="1" height="3"/>
<rect x="749" y="716" width="1" height="8"/>
<rect x="757" y="716" width="1" height="9"/>
<rect x="765" y="716" width="1" height="13"/>
<rect x="773" y="716" width="1" height="14"/>
<rect x="781" y="716" width="1" height="26"/>
<rect x="789" y="716" width="1" height="31"/>
<rect x="797" y="716" width="1" height="31"/>
<rect x="805" y="716" width="1" height="29"/>
<rect x="813" y="716" width="1" height="22"/>
<rect x="821" y="716" width="1" height="15"/>
<rect x="829" y="716" width="1" height="9"/>
<rect x="837" y="716" width="1" height="2"/>
<rect x="853" y="716" width="1" height="4"/>
<rect x="861" y="716" width="1" height="9"/>
<rect x="869" y="716" width="1" height="15"/>
<rect x="877" y="716" width="1" height="20"/>
<rect x="885" y="716" width="1" height="17"/>
<rect x="893" y="716" width="1" height="15"/>
<rect x="901" y="716" width="1" height="6"/>
<rect x="917" y="711" width="1" height="6"/>
<rect x="925" y="708" width="1" height="9"/>
<rect x="933" y="701" width="1" height="16"/>
<rect x="941" y="698" width="1" height="19"/>
<rect x="949" y="693" width="1" height="24"/>
<rect x="957" y="691" width="1" height="26"/>
<rect x="965" y="688" width="1" height="29"/>
<rect x="973" y="682" width="1" height="35"/>
<rect x="981" y="677" width="1" height="40"/>
<rect x="989" y="676" width="1" height="41"/>
<rect x="997" y="674" width="1" height="43"/>
<rect x="1005" y="672" width="1" height="45"/>
<rect x="1013" y="674" width="1" height="43"/>
<rect x="1021" y="675" width="1" height="42"/>
<rect x="1029" y="674" width="1" height="43"/>
<rect x="1037" y="680" width="1" height="37"/>
<rect x="1045" y="690" width="1" height="27"/>
<rect x="1053" y="688" width="1" height="29"/>
<rect x="1061" y="689" width="1" height="28"/>
<rect x="1069" y="693" width="1" height="24"/>
<rect x="1077" y="699" width="1" height="18"/>
<rect x="1085" y="716" width="1" height="5"/>
<rect x="1093" y="716" width="1" height="21"/>
<rect x="1101" y="716" width="1" height="19"/>
<rect x="1109" y="716" width="1" height="17"/>
<rect x="1117" y="716" width="1" height="16"/>
<rect x="1125" y="716" width="1" height="19"/>
<rect x="1133" y="716" width="1" height="14"/>
<rect x="1141" y="716" width="1" height="13"/>
<rect x="1149" y="716" width="1" height="13"/>
<rect x="1157" y="716" width="1" height="12"/>
<rect x="1165" y="716" width="1" height="14"/>
<rect x="1173" y="716" width="1" height="14"/>
<rect x="1181" y="716" width="1" height="11"/>
<rect x="1189" y="716" width="1" height="7"/>
<rect x="1197" y="716" width="1" height="3"/>
<rect x="1205" y="716" width="1" height="3"/>
<rect x="1213" y="716" width="1" height="2"/>
<rect x="1221" y="716" width="1" height="2"/>
<rect x="1229" y="716" width="1" height="2"/>
<rect x="1237" y="715" width="1" height="2"/>
<rect x="1245" y="713" width="1" height="4"/>
<rect x="1253" y="709" width="1" height="8"/>
<rect x="1261" y="700" width="1" height="17"/>
<rect x="1269" y="693" width="1" height="24"/>
<rect x="1277" y="687" width="1" height="30"/>
<rect x="1285" y="680" width="1" height="37"/>
<rect x="1293" y="674" width="1" height="43"/>
<rect x="1301" y="669" width="1" height="48"/>
<rect x="1309" y="664" width="1" height="53"/>
<rect x="1317" y="658" width="1" height="59"/>
<rect x="1325" y="655" width="1" height="62"/>
<rect x="1333" y="656" width="1" height="61"/>
<rect x="1341" y="663" width="1" height="54"/>
<rect x="1349" y="669" width="1" height="48"/>
<rect x="1357" y="671" width="1" height="46"/>
<rect x="1365" y="672" width="1" height="45"/>
<rect x="1373" y="673" width="1" height="44"/>
<rect x="1381" y="675" width="1" height="42"/>
<rect x="1389" y="679" width="1" height="38"/>
<rect x="1397" y="682" width="1" height="35"/>
<rect x="1405" y="686" width="1" height="31"/>
<rect x="1413" y="690" width="1" height="27"/>
<rect x="1421" y="692" width="1" height="25"/>
<rect x="1429" y="695" width="1" height="22"/>
<rect x="1437" y="693" width="1" height="24"/>
<rect x="1445" y="688" width="1" height="29"/>
<rect x="1453" y="684" width="1" height="33"/>
<rect x="1461" y="681" width="1" height="36"/>
<rect x="1469" y="673" width="1" height="44"/>
<rect x="1477" y="667" width="1" height="50"/>
<rect x="1485" y="684" width="1" height="33"/>
<rect x="1493" y="705" width="1" height="12"/>
<rect x="1509" y="716" width="1" height="13"/>
<rect x="1517" y="716" width="1" height="24"/>
<rect x="1525" y="716" width="1" height="30"/>
<rect x="1533" y="716" width="1" height="34"/>
<rect x="1541" y="716" width="1" height="27"/>
<rect x="1549" y="716" width="1" height="23"/>
<rect x="1557" y="716" width="1" height="27"/>
<rect x="1565" y="716" width="1" height="27"/>
<rect x="1573" y="716" width="1" height="23"/>
<rect x="1581" y="716" width="1" height="5"/>
<rect x="1589" y="709" width="1" height="8"/>
<rect x="1597" y="700" width="1" height="17"/>
<rect x="1605" y="689" width="1" height="28"/>
<rect x="1613" y="678" width="1" height="39"/>
<rect x="1621" y="676" width="1" height="41"/>
<rect x="1629" y="659" width="1" height="58"/>
<rect x="1637" y="647" width="1" height="70"/>
<rect x="1645" y="637" width="1" height="80"/>
<rect x="1653" y="630" width="1" height="87"/>
<rect x="1661" y="623" width="1" height="94"/>
</g>
<path clip-path="url(#cmacd)" fill="#FF0000" shape-rendering="crispEdges" d="M5 683h1v1h-1zM6 684h1v1h-1zM7 685h1v1h-1zM11 689h1v1h-1zM12 690h1v1h-1zM13 691h1v1h-1zM16 695h1v1h-1zM17 696h1v1h-1zM18 697h1v1h-1zM21 701h1v1h-1zM22 702h1v1h-1zM23 703h1v1h-1zM26 707h1v1h-1zM27 708h1v1h-1zM27 709h1v1h-1zM31 713h1v1h-1zM32 714h1v1h-1zM33 715h1v1h-1zM36 719h1v1h-1zM37 720h1v1h-1zM38 721h1v1h-1zM42 724h1v1h-1zM43 725h1v1h-1zM44 725h1v1h-1zM48 728h1v1h-1zM49 728h1v1h-1zM50 729h1v1h-1zM54 730h1v1h-1zM55 731h1v1h-1zM56 731h1v1h-1zM60 733h1v1h-1zM61 733h1v1h-1zM62 733h1v1h-1zM66 735h1v1h-1zM67 735h1v1h-1zM68 736h1v1h-1zM72 737h1v1h-1zM73 737h1v1h-1zM74 737h1v1h-1zM78 738h1v1h-1zM79 739h1v1h-1zM80 739h1v1h-1zM84 740h1v1h-1zM85 740h1v1h-1zM86 740h1v1h-1zM90 740h1v1h-1zM91 740h1v1h-1zM92 740h1v1h-1zM96 740h1v1h-1zM97 740h1v1h-1zM98 740h1v1h-1zM102 740h1v1h-1zM103 740h1v1h-1zM104 740h1v1h-1zM108 739h1v1h-1zM109 739h1v1h-1zM110 739h1v1h-1zM114 738h1v1h-1zM115 738h1v1h-1zM116 738h1v1h-1zM120 736h1v1h-1zM121 736h1v1h-1zM122 735h1v1h-1zM126 734h1v1h-1zM127 733h1v1h-1zM128 733h1v1h-1zM132 731h1v1h-1zM133 731h1v1h-1zM134 730h1v1h-1zM138 728h1v1h-1zM139 727h1v1h-1zM140 727h1v1h-1zM144 724h1v1h-1zM145 723h1v1h-1zM146 723h1v1h-1zM150 720h1v1h-1zM151 719h1v1h-1zM152 718h1v1h-1zM156 715h1v1h-1zM157 714h1v1h-1zM158 713h1v1h-1zM162 710h1v1h-1zM163 709h1v1h-1zM164 709h1v1h-1zM168 705h1v1h-1zM169 704h1v1h-1zM170 703h1v1h-1zM174 699h1v1h-1zM175 698h1v1h-1zM176 697h1v1h-1zM180 693h1v1h-1zM181 692h1v1h-1zM182 691h1v1h-1zM185 687h1v1h-1zM186 686h1v1h-1zM187 685h1v1h-1zM191 681h1v1h-1zM192 680h1v1h-1zM193 679h1v1h-1zM197 675h1v1h-1zM198 674h1v1h-1zM199 673h1v1h-1zM203 670h1v1h-1zM204 670h1v1h-1zM205 669h1v1h-1zM209 666h1v1h-1zM210 665h1v1h-1zM211 664h1v1h-1zM215 662h1v1h-1zM216 661h1v1h-1zM217 660h1v1h-1zM221 658h1v1h-1zM222 657h1v1h-1zM223 657h1v1h-1zM227 655h1v1h-1zM228 654h1v1h-1zM229 654h1v1h-1zM233 653h1v1h-1zM234 653h1v1h-1zM235 652h1v1h-1zM239 652h1v1h-1zM240 652h1v1h-1zM241 651h1v1h-1zM245 651h1v1h-1zM246 651h1v1h-1zM247 651h1v1h-1zM251 652h1v1h-1zM252 652h1v1h-1zM253 652h1v1h-1zM257 653h1v1h-1zM258 653h1v1h-1zM259 653h1v1h-1zM263 654h1v1h-1zM264 654h1v1h-1zM265 655h1v1h-1zM269 656h1v1h-1zM270 656h1v1h-1zM271 657h1v1h-1zM275 658h1v1h-1zM276 659h1v1h-1zM277 659h1v1h-1zM281 660h1v1h-1zM282 660h1v1h-1zM283 661h1v1h-1zM287 662h1v1h-1zM288 662h1v1h-1zM289 663h1v1h-1zM293 664h1v1h-1zM294 664h1v1h-1zM295 665h1v1h-1zM299 666h1v1h-1zM300 667h1v1h-1zM301 667h1v1h-1zM305 668h1v1h-1zM306 668h1v1h-1zM307 669h1v1h-1zM311 670h1v1h-1zM312 670h1v1h-1zM313 671h1v1h-1zM317 672h1v1h-1zM318 672h1v1h-1zM319 673h1v1h-1zM323 674h1v1h-1zM324 674h1v1h-1zM325 674h1v1h-1zM329 675h1v1h-1zM330 675h1v1h-1zM331 676h1v1h-1zM335 677h1v1h-1zM336 677h1v1h-1zM337 677h1v1h-1zM341 678h1v1h-1zM342 678h1v1h-1zM343 679h1v1h-1zM347 680h1v1h-1zM348 681h1v1h-1zM349 681h1v1h-1zM353 682h1v1h-1zM354 682h1v1h-1zM355 683h1v1h-1zM359 684h1v1h-1zM360 684h1v1h-1zM361 684h1v1h-1zM365 685h1v1h-1zM366 685h1v1h-1zM367 685h1v1h-1zM371 686h1v1h-1zM372 686h1v1h-1zM373 686h1v1h-1zM377 687h1v1h-1zM378 687h1v1h-1zM379 687h1v1h-1zM383 687h1v1h-1zM384 687h1v1h-1zM385 687h1v1h-1zM389 687h1v1h-1zM390 687h1v1h-1zM391 687h1v1h-1zM395 686h1v1h-1zM396 686h1v1h-1zM397 686h1v1h-1zM401 685h1v1h-1zM402 685h1v1h-1zM403 684h1v1h-1zM407 683h1v1h-1zM408 683h1v1h-1zM409 682h1v1h-1zM413 681h1v1h-1zM414 681h1v1h-1zM415 680h1v1h-1zM419 679h1v1h-1zM420 678h1v1h-1zM421 678h1v1h-1zM425 676h1v1h-1zM426 676h1v1h-1zM427 676h1v1h-1zM431 674h1v1h-1zM432 674h1v1h-1zM433 673h1v1h-1zM437 672h1v1h-1zM438 672h1v1h-1zM439 671h1v1h-1zM443 670h1v1h-1zM444 670h1v1h-1zM445 670h1v1h-1zM449 669h1v1h-1zM450 669h1v1h-1zM451 669h1v1h-1zM455 669h1v1h-1zM456 669h1v1h-1zM457 668h1v1h-1zM461 668h1v1h-1zM462 668h1v1h-1zM463 668h1v1h-1zM467 668h1v1h-1zM468 668h1v1h-1zM469 668h1v1h-1zM473 668h1v1h-1zM474 668h1v1h-1zM475 668h1v1h-1zM479 668h1v1h-1zM480 668h1v1h-1zM481 668h1v1h-1zM485 668h1v1h-1zM486 668h1v1h-1zM487 668h1v1h-1zM491 668h1v1h-1zM492 668h1v1h-1zM493 668h1v1h-1zM497 668h1v1h-1zM498 668h1v1h-1zM499 668h1v1h-1zM503 668h1v1h-1zM504 668h1v1h-1zM505 668h1v1h-1zM509 668h1v1h-1zM510 668h1v1h-1zM511 668h1v1h-1zM515 668h1v1h-1zM516 668h1v1h-1zM517 668h1v1h-1zM521 668h1v1h-1zM522 668h1v1h-1zM523 668h1v1h-1zM527 668h1v1h-1zM528 668h1v1h-1zM529 668h1v1h-1zM533 668h1v1h-1zM534 668h1v1h-1zM535 668h1v1h-1zM539 668h1v1h-1zM540 668h1v1h-1zM541 668h1v1h-1zM545 668h1v1h-1zM546 668h1v1h-1zM547 668h1v1h-1zM551 668h1v1h-1zM552 668h1v1h-1zM553 668h1v1h-1zM557 668h1v1h-1zM558 668h1v1h-1zM559 668h1v1h-1zM563 667h1v1h-1zM564 667h1v1h-1zM565 667h1v1h-1zM569 666h1v1h-1zM570 666h1v1h-1zM571 666h1v1h-1zM575 666h1v1h-1zM576 666h1v1h-1zM577 666h1v1h-1zM581 666h1v1h-1zM582 666h1v1h-1zM583 666h1v1h-1zM587 665h1v1h-1zM588 665h1v1h-1zM589 665h1v1h-1zM593 664h1v1h-1zM594 664h1v1h-1zM595 664h1v1h-1zM599 664h1v1h-1zM600 664h1v1h-1zM601 664h1v1h-1zM605 664h1v1h-1zM606 664h1v1h-1zM607 664h1v1h-1zM611 665h1v1h-1zM612 665h1v1h-1zM613 665h1v1h-1zM617 666h1v1h-1zM618 666h1v1h-1zM619 666h1v1h-1zM623 667h1v1h-1zM624 667h1v1h-1zM625 668h1v1h-1zM629 669h1v1h-1zM630 669h1v1h-1zM631 670h1v1h-1zM635 671h1v1h-1zM636 671h1v1h-1zM637 671h1v1h-1zM641 673h1v1h-1zM642 673h1v1h-1zM643 673h1v1h-1zM647 675h1v1h-1zM648 675h1v1h-1zM649 675h1v1h-1zM653 676h1v1h-1zM654 676h1v1h-1zM655 677h1v1h-1zM659 678h1v1h-1zM660 679h1v1h-1zM661 679h1v1h-1zM665 680h1v1h-1zM666 680h1v1h-1zM667 680h1v1h-1zM671 680h1v1h-1zM672 680h1v1h-1zM673 680h1v1h-1zM677 680h1v1h-1zM678 680h1v1h-1zM679 680h1v1h-1zM683 680h1v1h-1zM684 680h1v1h-1zM685 680h1v1h-1zM689 681h1v1h-1zM690 681h1v1h-1zM691 681h1v1h-1zM695 681h1v1h-1zM696 681h1v1h-1zM697 681h1v1h-1zM701 681h1v1h-1zM702 681h1v1h-1zM703 681h1v1h-1zM707 681h1v1h-1zM708 681h1v1h-1zM709 681h1v1h-1zM713 682h1v1h-1zM714 682h1v1h-1zM715 683h1v1h-1zM719 684h1v1h-1zM720 684h1v1h-1zM721 685h1v1h-1zM725 686h1v1h-1zM726 686h1v1h-1zM727 687h1v1h-1zM731 688h1v1h-1zM732 689h1v1h-1zM733 689h1v1h-1zM737 692h1v1h-1zM738 692h1v1h-1zM739 693h1v1h-1zM743 696h1v1h-1zM744 696h1v1h-1zM745 697h1v1h-1zM749 700h1v1h-1zM750 701h1v1h-1zM751 701h1v1h-1zM755 704h1v1h-1zM756 704h1v1h-1zM757 705h1v1h-1zM761 708h1v1h-1zM762 709h1v1h-1zM763 710h1v1h-1zM767 712h1v1h-1zM768 713h1v1h-1zM769 714h1v1h-1zM773 716h1v1h-1zM774 717h1v1h-1zM775 717h1v1h-1zM779 720h1v1h-1zM780 720h1v1h-1zM781 721h1v1h-1zM785 723h1v1h-1zM786 724h1v1h-1zM787 724h1v1h-1zM791 726h1v1h-1zM792 727h1v1h-1zM793 727h1v1h-1zM797 729h1v1h-1zM798 730h1v1h-1zM799 730h1v1h-1zM803 732h1v1h-1zM804 733h1v1h-1zM805 733h1v1h-1zM809 734h1v1h-1zM810 734h1v1h-1zM811 735h1v1h-1zM815 736h1v1h-1zM816 736h1v1h-1zM817 736h1v1h-1zM821 737h1v1h-1zM822 737h1v1h-1zM823 737h1v1h-1zM827 736h1v1h-1zM828 736h1v1h-1zM829 736h1v1h-1zM833 735h1v1h-1zM834 735h1v1h-1zM835 735h1v1h-1zM839 735h1v1h-1zM840 735h1v1h-1zM841 734h1v1h-1zM845 734h1v1h-1zM846 734h1v1h-1zM847 733h1v1h-1zM851 732h1v1h-1zM852 732h1v1h-1zM853 732h1v1h-1zM857 730h1v1h-1zM858 730h1v1h-1zM859 730h1v1h-1zM863 728h1v1h-1zM864 728h1v1h-1zM865 728h1v1h-1zM869 727h1v1h-1zM870 727h1v1h-1zM871 727h1v1h-1zM875 727h1v1h-1zM876 727h1v1h-1zM877 727h1v1h-1zM881 726h1v1h-1zM882 726h1v1h-1zM883 726h1v1h-1zM887 726h1v1h-1zM888 726h1v1h-1zM889 726h1v1h-1zM893 726h1v1h-1zM894 726h1v1h-1zM895 726h1v1h-1zM899 725h1v1h-1zM900 725h1v1h-1zM901 725h1v1h-1zM905 724h1v1h-1zM906 724h1v1h-1zM907 724h1v1h-1zM911 724h1v1h-1zM912 724h1v1h-1zM913 723h1v1h-1zM917 723h1v1h-1zM918 723h1v1h-1zM919 722h1v1h-1zM923 721h1v1h-1zM924 721h1v1h-1zM925 721h1v1h-1zM929 720h1v1h-1zM930 720h1v1h-1zM931 719h1v1h-1zM935 718h1v1h-1zM936 717h1v1h-1zM937 717h1v1h-1zM941 715h1v1h-1zM942 714h1v1h-1zM943 714h1v1h-1zM947 712h1v1h-1zM948 711h1v1h-1zM949 711h1v1h-1zM953 709h1v1h-1zM954 708h1v1h-1zM955 708h1v1h-1zM959 706h1v1h-1zM960 705h1v1h-1zM961 704h1v1h-1zM965 702h1v1h-1zM966 701h1v1h-1zM967 701h1v1h-1zM971 699h1v1h-1zM972 698h1v1h-1zM973 698h1v1h-1zM977 696h1v1h-1zM978 695h1v1h-1zM979 695h1v1h-1zM983 693h1v1h-1zM984 692h1v1h-1zM985 691h1v1h-1zM989 689h1v1h-1zM990 688h1v1h-1zM991 688h1v1h-1zM995 686h1v1h-1zM996 685h1v1h-1zM997 685h1v1h-1zM1001 683h1v1h-1zM1002 683h1v1h-1zM1003 683h1v1h-1zM1007 681h1v1h-1zM1008 681h1v1h-1zM1009 681h1v1h-1zM1013 680h1v1h-1zM1014 680h1v1h-1zM1015 679h1v1h-1zM1019 678h1v1h-1zM1020 678h1v1h-1zM1021 678h1v1h-1zM1025 677h1v1h-1zM1026 677h1v1h-1zM1027 676h1v1h-1zM1031 676h1v1h-1zM1032 676h1v1h-1zM1033 675h1v1h-1zM1037 675h1v1h-1zM1038 675h1v1h-1zM1039 675h1v1h-1zM1043 676h1v1h-1zM1044 676h1v1h-1zM1045 676h1v1h-1zM1049 677h1v1h-1zM1050 677h1v1h-1zM1051 678h1v1h-1zM1055 678h1v1h-1zM1056 678h1v1h-1zM1057 679h1v1h-1zM1061 679h1v1h-1zM1062 679h1v1h-1zM1063 680h1v1h-1zM1067 681h1v1h-1zM1068 682h1v1h-1zM1069 682h1v1h-1zM1073 684h1v1h-1zM1074 684h1v1h-1zM1075 684h1v1h-1zM1079 686h1v1h-1zM1080 687h1v1h-1zM1081 687h1v1h-1zM1085 689h1v1h-1zM1086 690h1v1h-1zM1087 691h1v1h-1zM1091 694h1v1h-1zM1092 695h1v1h-1zM1093 696h1v1h-1zM1097 699h1v1h-1zM1098 700h1v1h-1zM1099 701h1v1h-1zM1103 704h1v1h-1zM1104 704h1v1h-1zM1105 705h1v1h-1zM1109 708h1v1h-1zM1110 709h1v1h-1zM1111 709h1v1h-1zM1115 712h1v1h-1zM1116 712h1v1h-1zM1117 713h1v1h-1zM1121 716h1v1h-1zM1122 716h1v1h-1zM1123 717h1v1h-1zM1127 719h1v1h-1zM1128 720h1v1h-1zM1129 721h1v1h-1zM1133 723h1v1h-1zM1134 724h1v1h-1zM1135 724h1v1h-1zM1139 726h1v1h-1zM1140 727h1v1h-1zM1141 727h1v1h-1zM1145 728h1v1h-1zM1146 728h1v1h-1zM1147 729h1v1h-1zM1151 730h1v1h-1zM1152 730h1v1h-1zM1153 730h1v1h-1zM1157 731h1v1h-1zM1158 731h1v1h-1zM1159 731h1v1h-1zM1163 731h1v1h-1zM1164 731h1v1h-1zM1165 731h1v1h-1zM1169 730h1v1h-1zM1170 730h1v1h-1zM1171 730h1v1h-1zM1175 730h1v1h-1zM1176 730h1v1h-1zM1177 730h1v1h-1zM1181 730h1v1h-1zM1182 730h1v1h-1zM1183 730h1v1h-1zM1187 729h1v1h-1zM1188 729h1v1h-1zM1189 729h1v1h-1zM1193 728h1v1h-1zM1194 728h1v1h-1zM1195 727h1v1h-1zM1199 727h1v1h-1zM1200 727h1v1h-1zM1201 726h1v1h-1zM1205 726h1v1h-1zM1206 726h1v1h-1zM1207 725h1v1h-1zM1211 724h1v1h-1zM1212 724h1v1h-1zM1213 724h1v1h-1zM1217 723h1v1h-1zM1218 723h1v1h-1zM1219 723h1v1h-1zM1223 722h1v1h-1zM1224 722h1v1h-1zM1225 722h1v1h-1zM1229 721h1v1h-1zM1230 721h1v1h-1zM1231 720h1v1h-1zM1235 719h1v1h-1zM1236 719h1v1h-1zM1237 719h1v1h-1zM1241 718h1v1h-1zM1242 718h1v1h-1zM1243 717h1v1h-1zM1247 716h1v1h-1zM1248 716h1v1h-1zM1249 716h1v1h-1zM1253 715h1v1h-1zM1254 715h1v1h-1zM1255 714h1v1h-1zM1259 713h1v1h-1zM1260 712h1v1h-1zM1261 712h1v1h-1zM1265 710h1v1h-1zM1266 710h1v1h-1zM1267 710h1v1h-1zM1271 708h1v1h-1zM1272 707h1v1h-1zM1273 707h1v1h-1zM1277 705h1v1h-1zM1278 704h1v1h-1zM1279 704h1v1h-1zM1283 702h1v1h-1zM1284 701h1v1h-1zM1285 701h1v1h-1zM1289 699h1v1h-1zM1290 698h1v1h-1zM1291 698h1v1h-1zM1295 696h1v1h-1zM1296 695h1v1h-1zM1297 695h1v1h-1zM1301 693h1v1h-1zM1302 692h1v1h-1zM1303 692h1v1h-1zM1307 689h1v1h-1zM1308 689h1v1h-1zM1309 688h1v1h-1zM1313 685h1v1h-1zM1314 684h1v1h-1zM1315 683h1v1h-1zM1319 680h1v1h-1zM1320 680h1v1h-1zM1321 679h1v1h-1zM1325 676h1v1h-1zM1326 675h1v1h-1zM1327 674h1v1h-1zM1331 671h1v1h-1zM1332 671h1v1h-1zM1333 670h1v1h-1zM1337 668h1v1h-1zM1338 668h1v1h-1zM1339 668h1v1h-1zM1343 666h1v1h-1zM1344 666h1v1h-1zM1345 666h1v1h-1zM1349 665h1v1h-1zM1350 665h1v1h-1zM1351 664h1v1h-1zM1355 663h1v1h-1zM1356 663h1v1h-1zM1357 663h1v1h-1zM1361 663h1v1h-1zM1362 663h1v1h-1zM1363 663h1v1h-1zM1367 663h1v1h-1zM1368 663h1v1h-1zM1369 663h1v1h-1zM1373 663h1v1h-1zM1374 663h1v1h-1zM1375 663h1v1h-1zM1379 664h1v1h-1zM1380 664h1v1h-1zM1381 664h1v1h-1zM1385 665h1v1h-1zM1386 665h1v1h-1zM1387 666h1v1h-1zM1391 667h1v1h-1zM1392 667h1v1h-1zM1393 668h1v1h-1zM1397 669h1v1h-1zM1398 669h1v1h-1zM1399 670h1v1h-1zM1403 671h1v1h-1zM1404 672h1v1h-1zM1405 672h1v1h-1zM1409 674h1v1h-1zM1410 674h1v1h-1zM1411 674h1v1h-1zM1415 676h1v1h-1zM1416 676h1v1h-1zM1417 677h1v1h-1zM1421 678h1v1h-1zM1422 678h1v1h-1zM1423 679h1v1h-1zM1427 680h1v1h-1zM1428 680h1v1h-1zM1429 680h1v1h-1zM1433 682h1v1h-1zM1434 682h1v1h-1zM1435 682h1v1h-1zM1439 684h1v1h-1zM1440 684h1v1h-1zM1441 684h1v1h-1zM1445 685h1v1h-1zM1446 685h1v1h-1zM1447 686h1v1h-1zM1451 687h1v1h-1zM1452 687h1v1h-1zM1453 687h1v1h-1zM1457 687h1v1h-1zM1458 687h1v1h-1zM1459 687h1v1h-1zM1463 687h1v1h-1zM1464 687h1v1h-1zM1465 686h1v1h-1zM1469 686h1v1h-1zM1470 686h1v1h-1zM1471 685h1v1h-1zM1475 684h1v1h-1zM1476 684h1v1h-1zM1477 684h1v1h-1zM1481 684h1v1h-1zM1482 684h1v1h-1zM1483 684h1v1h-1zM1487 684h1v1h-1zM1488 684h1v1h-1zM1489 685h1v1h-1zM1493 685h1v1h-1zM1494 685h1v1h-1zM1495 686h1v1h-1zM1499 687h1v1h-1zM1500 687h1v1h-1zM1501 687h1v1h-1zM1505 690h1v1h-1zM1506 691h1v1h-1zM1507 692h1v1h-1zM1511 695h1v1h-1zM1512 696h1v1h-1zM1513 697h1v1h-1zM1517 700h1v1h-1zM1518 701h1v1h-1zM1519 702h1v1h-1zM1523 705h1v1h-1zM1524 705h1v1h-1zM1525 706h1v1h-1zM1529 710h1v1h-1zM1530 710h1v1h-1zM1531 711h1v1h-1zM1535 715h1v1h-1zM1536 716h1v1h-1zM1537 717h1v1h-1zM1541 720h1v1h-1zM1542 721h1v1h-1zM1543 722h1v1h-1zM1547 725h1v1h-1zM1548 726h1v1h-1zM1549 727h1v1h-1zM1553 730h1v1h-1zM1554 731h1v1h-1zM1555 732h1v1h-1zM1559 734h1v1h-1zM1560 735h1v1h-1zM1561 735h1v1h-1zM1565 737h1v1h-1zM1566 738h1v1h-1zM1567 738h1v1h-1zM1571 740h1v1h-1zM1572 741h1v1h-1zM1573 741h1v1h-1zM1577 739h1v1h-1zM1578 739h1v1h-1zM1579 739h1v1h-1zM1583 737h1v1h-1zM1584 737h1v1h-1zM1585 737h1v1h-1zM1589 736h1v1h-1zM1590 735h1v1h-1zM1591 735h1v1h-1zM1595 732h1v1h-1zM1596 732h1v1h-1zM1597 731h1v1h-1zM1601 727h1v1h-1zM1602 727h1v1h-1zM1603 726h1v1h-1zM1607 722h1v1h-1zM1608 721h1v1h-1zM1609 720h1v1h-1zM1613 717h1v1h-1zM1614 716h1v1h-1zM1615 715h1v1h-1zM1619 711h1v1h-1zM1620 710h1v1h-1zM1621 709h1v1h-1zM1625 705h1v1h-1zM1625 704h1v1h-1zM1626 703h1v1h-1zM1630 699h1v1h-1zM1631 698h1v1h-1zM1632 697h1v1h-1zM1635 693h1v1h-1zM1636 692h1v1h-1zM1637 691h1v1h-1zM1640 687h1v1h-1zM1641 686h1v1h-1zM1642 685h1v1h-1zM1645 681h1v1h-1zM1646 680h1v1h-1zM1647 679h1v1h-1zM1650 675h1v1h-1zM1651 674h1v1h-1zM1651 673h1v1h-1zM1655 669h1v1h-1zM1655 668h1v1h-1zM1656 667h1v1h-1zM1659 663h1v1h-1zM1660 662h1v1h-1z"/>
<text x="9" y="627" font-size="10" fill="#000" text-anchor="start" textLength="137" lengthAdjust="spacingAndGlyphs" >MACD(12,26,9) 22.1454 13.4006</text>
<g shape-rendering="crispEdges" fill="#C0C0C0">
<rect x="6" y="795" width="3" height="1"/>
<rect x="12" y="795" width="3" height="1"/>
<rect x="18" y="795" width="3" height="1"/>
<rect x="24" y="795" width="3" height="1"/>
<rect x="30" y="795" width="3" height="1"/>
<rect x="36" y="795" width="3" height="1"/>
<rect x="42" y="795" width="3" height="1"/>
<rect x="48" y="795" width="3" height="1"/>
<rect x="54" y="795" width="3" height="1"/>
<rect x="60" y="795" width="3" height="1"/>
<rect x="66" y="795" width="3" height="1"/>
<rect x="72" y="795" width="3" height="1"/>
<rect x="78" y="795" width="3" height="1"/>
<rect x="84" y="795" width="3" height="1"/>
<rect x="90" y="795" width="3" height="1"/>
<rect x="96" y="795" width="3" height="1"/>
<rect x="102" y="795" width="3" height="1"/>
<rect x="108" y="795" width="3" height="1"/>
<rect x="114" y="795" width="3" height="1"/>
<rect x="120" y="795" width="3" height="1"/>
<rect x="126" y="795" width="3" height="1"/>
<rect x="132" y="795" width="3" height="1"/>
<rect x="138" y="795" width="3" height="1"/>
<rect x="144" y="795" width="3" height="1"/>
<rect x="150" y="795" width="3" height="1"/>
<rect x="156" y="795" width="3" height="1"/>
<rect x="162" y="795" width="3" height="1"/>
<rect x="168" y="795" width="3" height="1"/>
<rect x="174" y="795" width="3" height="1"/>
<rect x="180" y="795" width="3" height="1"/>
<rect x="186" y="795" width="3" height="1"/>
<rect x="192" y="795" width="3" height="1"/>
<rect x="198" y="795" width="3" height="1"/>
<rect x="204" y="795" width="3" height="1"/>
<rect x="210" y="795" width="3" height="1"/>
<rect x="216" y="795" width="3" height="1"/>
<rect x="222" y="795" width="3" height="1"/>
<rect x="228" y="795" width="3" height="1"/>
<rect x="234" y="795" width="3" height="1"/>
<rect x="240" y="795" width="3" height="1"/>
<rect x="246" y="795" width="3" height="1"/>
<rect x="252" y="795" width="3" height="1"/>
<rect x="258" y="795" width="3" height="1"/>
<rect x="264" y="795" width="3" height="1"/>
<rect x="270" y="795" width="3" height="1"/>
<rect x="276" y="795" width="3" height="1"/>
<rect x="282" y="795" width="3" height="1"/>
<rect x="288" y="795" width="3" height="1"/>
<rect x="294" y="795" width="3" height="1"/>
<rect x="300" y="795" width="3" height="1"/>
<rect x="306" y="795" width="3" height="1"/>
<rect x="312" y="795" width="3" height="1"/>
<rect x="318" y="795" width="3" height="1"/>
<rect x="324" y="795" width="3" height="1"/>
<rect x="330" y="795" width="3" height="1"/>
<rect x="336" y="795" width="3" height="1"/>
<rect x="342" y="795" width="3" height="1"/>
<rect x="348" y="795" width="3" height="1"/>
<rect x="354" y="795" width="3" height="1"/>
<rect x="360" y="795" width="3" height="1"/>
<rect x="366" y="795" width="3" height="1"/>
<rect x="372" y="795" width="3" height="1"/>
<rect x="378" y="795" width="3" height="1"/>
<rect x="384" y="795" width="3" height="1"/>
<rect x="390" y="795" width="3" height="1"/>
<rect x="396" y="795" width="3" height="1"/>
<rect x="402" y="795" width="3" height="1"/>
<rect x="408" y="795" width="3" height="1"/>
<rect x="414" y="795" width="3" height="1"/>
<rect x="420" y="795" width="3" height="1"/>
<rect x="426" y="795" width="3" height="1"/>
<rect x="432" y="795" width="3" height="1"/>
<rect x="438" y="795" width="3" height="1"/>
<rect x="444" y="795" width="3" height="1"/>
<rect x="450" y="795" width="3" height="1"/>
<rect x="456" y="795" width="3" height="1"/>
<rect x="462" y="795" width="3" height="1"/>
<rect x="468" y="795" width="3" height="1"/>
<rect x="474" y="795" width="3" height="1"/>
<rect x="480" y="795" width="3" height="1"/>
<rect x="486" y="795" width="3" height="1"/>
<rect x="492" y="795" width="3" height="1"/>
<rect x="498" y="795" width="3" height="1"/>
<rect x="504" y="795" width="3" height="1"/>
<rect x="510" y="795" width="3" height="1"/>
<rect x="516" y="795" width="3" height="1"/>
<rect x="522" y="795" width="3" height="1"/>
<rect x="528" y="795" width="3" height="1"/>
<rect x="534" y="795" width="3" height="1"/>
<rect x="540" y="795" width="3" height="1"/>
<rect x="546" y="795" width="3" height="1"/>
<rect x="552" y="795" width="3" height="1"/>
<rect x="558" y="795" width="3" height="1"/>
<rect x="564" y="795" width="3" height="1"/>
<rect x="570" y="795" width="3" height="1"/>
<rect x="576" y="795" width="3" height="1"/>
<rect x="582" y="795" width="3" height="1"/>
<rect x="588" y="795" width="3" height="1"/>
<rect x="594" y="795" width="3" height="1"/>
<rect x="600" y="795" width="3" height="1"/>
<rect x="606" y="795" width="3" height="1"/>
<rect x="612" y="795" width="3" height="1"/>
<rect x="618" y="795" width="3" height="1"/>
<rect x="624" y="795" width="3" height="1"/>
<rect x="630" y="795" width="3" height="1"/>
<rect x="636" y="795" width="3" height="1"/>
<rect x="642" y="795" width="3" height="1"/>
<rect x="648" y="795" width="3" height="1"/>
<rect x="654" y="795" width="3" height="1"/>
<rect x="660" y="795" width="3" height="1"/>
<rect x="666" y="795" width="3" height="1"/>
<rect x="672" y="795" width="3" height="1"/>
<rect x="678" y="795" width="3" height="1"/>
<rect x="684" y="795" width="3" height="1"/>
<rect x="690" y="795" width="3" height="1"/>
<rect x="696" y="795" width="3" height="1"/>
<rect x="702" y="795" width="3" height="1"/>
<rect x="708" y="795" width="3" height="1"/>
<rect x="714" y="795" width="3" height="1"/>
<rect x="720" y="795" width="3" height="1"/>
<rect x="726" y="795" width="3" height="1"/>
<rect x="732" y="795" width="3" height="1"/>
<rect x="738" y="795" width="3" height="1"/>
<rect x="744" y="795" width="3" height="1"/>
<rect x="750" y="795" width="3" height="1"/>
<rect x="756" y="795" width="3" height="1"/>
<rect x="762" y="795" width="3" height="1"/>
<rect x="768" y="795" width="3" height="1"/>
<rect x="774" y="795" width="3" height="1"/>
<rect x="780" y="795" width="3" height="1"/>
<rect x="786" y="795" width="3" height="1"/>
<rect x="792" y="795" width="3" height="1"/>
<rect x="798" y="795" width="3" height="1"/>
<rect x="804" y="795" width="3" height="1"/>
<rect x="810" y="795" width="3" height="1"/>
<rect x="816" y="795" width="3" height="1"/>
<rect x="822" y="795" width="3" height="1"/>
<rect x="828" y="795" width="3" height="1"/>
<rect x="834" y="795" width="3" height="1"/>
<rect x="840" y="795" width="3" height="1"/>
<rect x="846" y="795" width="3" height="1"/>
<rect x="852" y="795" width="3" height="1"/>
<rect x="858" y="795" width="3" height="1"/>
<rect x="864" y="795" width="3" height="1"/>
<rect x="870" y="795" width="3" height="1"/>
<rect x="876" y="795" width="3" height="1"/>
<rect x="882" y="795" width="3" height="1"/>
<rect x="888" y="795" width="3" height="1"/>
<rect x="894" y="795" width="3" height="1"/>
<rect x="900" y="795" width="3" height="1"/>
<rect x="906" y="795" width="3" height="1"/>
<rect x="912" y="795" width="3" height="1"/>
<rect x="918" y="795" width="3" height="1"/>
<rect x="924" y="795" width="3" height="1"/>
<rect x="930" y="795" width="3" height="1"/>
<rect x="936" y="795" width="3" height="1"/>
<rect x="942" y="795" width="3" height="1"/>
<rect x="948" y="795" width="3" height="1"/>
<rect x="954" y="795" width="3" height="1"/>
<rect x="960" y="795" width="3" height="1"/>
<rect x="966" y="795" width="3" height="1"/>
<rect x="972" y="795" width="3" height="1"/>
<rect x="978" y="795" width="3" height="1"/>
<rect x="984" y="795" width="3" height="1"/>
<rect x="990" y="795" width="3" height="1"/>
<rect x="996" y="795" width="3" height="1"/>
<rect x="1002" y="795" width="3" height="1"/>
<rect x="1008" y="795" width="3" height="1"/>
<rect x="1014" y="795" width="3" height="1"/>
<rect x="1020" y="795" width="3" height="1"/>
<rect x="1026" y="795" width="3" height="1"/>
<rect x="1032" y="795" width="3" height="1"/>
<rect x="1038" y="795" width="3" height="1"/>
<rect x="1044" y="795" width="3" height="1"/>
<rect x="1050" y="795" width="3" height="1"/>
<rect x="1056" y="795" width="3" height="1"/>
<rect x="1062" y="795" width="3" height="1"/>
<rect x="1068" y="795" width="3" height="1"/>
<rect x="1074" y="795" width="3" height="1"/>
<rect x="1080" y="795" width="3" height="1"/>
<rect x="1086" y="795" width="3" height="1"/>
<rect x="1092" y="795" width="3" height="1"/>
<rect x="1098" y="795" width="3" height="1"/>
<rect x="1104" y="795" width="3" height="1"/>
<rect x="1110" y="795" width="3" height="1"/>
<rect x="1116" y="795" width="3" height="1"/>
<rect x="1122" y="795" width="3" height="1"/>
<rect x="1128" y="795" width="3" height="1"/>
<rect x="1134" y="795" width="3" height="1"/>
<rect x="1140" y="795" width="3" height="1"/>
<rect x="1146" y="795" width="3" height="1"/>
<rect x="1152" y="795" width="3" height="1"/>
<rect x="1158" y="795" width="3" height="1"/>
<rect x="1164" y="795" width="3" height="1"/>
<rect x="1170" y="795" width="3" height="1"/>
<rect x="1176" y="795" width="3" height="1"/>
<rect x="1182" y="795" width="3" height="1"/>
<rect x="1188" y="795" width="3" height="1"/>
<rect x="1194" y="795" width="3" height="1"/>
<rect x="1200" y="795" width="3" height="1"/>
<rect x="1206" y="795" width="3" height="1"/>
<rect x="1212" y="795" width="3" height="1"/>
<rect x="1218" y="795" width="3" height="1"/>
<rect x="1224" y="795" width="3" height="1"/>
<rect x="1230" y="795" width="3" height="1"/>
<rect x="1236" y="795" width="3" height="1"/>
<rect x="1242" y="795" width="3" height="1"/>
<rect x="1248" y="795" width="3" height="1"/>
<rect x="1254" y="795" width="3" height="1"/>
<rect x="1260" y="795" width="3" height="1"/>
<rect x="1266" y="795" width="3" height="1"/>
<rect x="1272" y="795" width="3" height="1"/>
<rect x="1278" y="795" width="3" height="1"/>
<rect x="1284" y="795" width="3" height="1"/>
<rect x="1290" y="795" width="3" height="1"/>
<rect x="1296" y="795" width="3" height="1"/>
<rect x="1302" y="795" width="3" height="1"/>
<rect x="1308" y="795" width="3" height="1"/>
<rect x="1314" y="795" width="3" height="1"/>
<rect x="1320" y="795" width="3" height="1"/>
<rect x="1326" y="795" width="3" height="1"/>
<rect x="1332" y="795" width="3" height="1"/>
<rect x="1338" y="795" width="3" height="1"/>
<rect x="1344" y="795" width="3" height="1"/>
<rect x="1350" y="795" width="3" height="1"/>
<rect x="1356" y="795" width="3" height="1"/>
<rect x="1362" y="795" width="3" height="1"/>
<rect x="1368" y="795" width="3" height="1"/>
<rect x="1374" y="795" width="3" height="1"/>
<rect x="1380" y="795" width="3" height="1"/>
<rect x="1386" y="795" width="3" height="1"/>
<rect x="1392" y="795" width="3" height="1"/>
<rect x="1398" y="795" width="3" height="1"/>
<rect x="1404" y="795" width="3" height="1"/>
<rect x="1410" y="795" width="3" height="1"/>
<rect x="1416" y="795" width="3" height="1"/>
<rect x="1422" y="795" width="3" height="1"/>
<rect x="1428" y="795" width="3" height="1"/>
<rect x="1434" y="795" width="3" height="1"/>
<rect x="1440" y="795" width="3" height="1"/>
<rect x="1446" y="795" width="3" height="1"/>
<rect x="1452" y="795" width="3" height="1"/>
<rect x="1458" y="795" width="3" height="1"/>
<rect x="1464" y="795" width="3" height="1"/>
<rect x="1470" y="795" width="3" height="1"/>
<rect x="1476" y="795" width="3" height="1"/>
<rect x="1482" y="795" width="3" height="1"/>
<rect x="1488" y="795" width="3" height="1"/>
<rect x="1494" y="795" width="3" height="1"/>
<rect x="1500" y="795" width="3" height="1"/>
<rect x="1506" y="795" width="3" height="1"/>
<rect x="1512" y="795" width="3" height="1"/>
<rect x="1518" y="795" width="3" height="1"/>
<rect x="1524" y="795" width="3" height="1"/>
<rect x="1530" y="795" width="3" height="1"/>
<rect x="1536" y="795" width="3" height="1"/>
<rect x="1542" y="795" width="3" height="1"/>
<rect x="1548" y="795" width="3" height="1"/>
<rect x="1554" y="795" width="3" height="1"/>
<rect x="1560" y="795" width="3" height="1"/>
<rect x="1566" y="795" width="3" height="1"/>
<rect x="1572" y="795" width="3" height="1"/>
<rect x="1578" y="795" width="3" height="1"/>
<rect x="1584" y="795" width="3" height="1"/>
<rect x="1590" y="795" width="3" height="1"/>
<rect x="1596" y="795" width="3" height="1"/>
<rect x="1602" y="795" width="3" height="1"/>
<rect x="1608" y="795" width="3" height="1"/>
<rect x="1614" y="795" width="3" height="1"/>
<rect x="1620" y="795" width="3" height="1"/>
<rect x="1626" y="795" width="3" height="1"/>
<rect x="1632" y="795" width="3" height="1"/>
<rect x="1638" y="795" width="3" height="1"/>
<rect x="1644" y="795" width="3" height="1"/>
<rect x="1650" y="795" width="3" height="1"/>
<rect x="1656" y="795" width="3" height="1"/>
<rect x="1662" y="795" width="3" height="1"/>
<rect x="1668" y="795" width="3" height="1"/>
<rect x="1674" y="795" width="3" height="1"/>
<rect x="6" y="842" width="3" height="1"/>
<rect x="12" y="842" width="3" height="1"/>
<rect x="18" y="842" width="3" height="1"/>
<rect x="24" y="842" width="3" height="1"/>
<rect x="30" y="842" width="3" height="1"/>
<rect x="36" y="842" width="3" height="1"/>
<rect x="42" y="842" width="3" height="1"/>
<rect x="48" y="842" width="3" height="1"/>
<rect x="54" y="842" width="3" height="1"/>
<rect x="60" y="842" width="3" height="1"/>
<rect x="66" y="842" width="3" height="1"/>
<rect x="72" y="842" width="3" height="1"/>
<rect x="78" y="842" width="3" height="1"/>
<rect x="84" y="842" width="3" height="1"/>
<rect x="90" y="842" width="3" height="1"/>
<rect x="96" y="842" width="3" height="1"/>
<rect x="102" y="842" width="3" height="1"/>
<rect x="108" y="842" width="3" height="1"/>
<rect x="114" y="842" width="3" height="1"/>
<rect x="120" y="842" width="3" height="1"/>
<rect x="126" y="842" width="3" height="1"/>
<rect x="132" y="842" width="3" height="1"/>
<rect x="138" y="842" width="3" height="1"/>
<rect x="144" y="842" width="3" height="1"/>
<rect x="150" y="842" width="3" height="1"/>
<rect x="156" y="842" width="3" height="1"/>
<rect x="162" y="842" width="3" height="1"/>
<rect x="168" y="842" width="3" height="1"/>
<rect x="174" y="842" width="3" height="1"/>
<rect x="180" y="842" width="3" height="1"/>
<rect x="186" y="842" width="3" height="1"/>
<rect x="192" y="842" width="3" height="1"/>
<rect x="198" y="842" width="3" height="1"/>
<rect x="204" y="842" width="3" height="1"/>
<rect x="210" y="842" width="3" height="1"/>
<rect x="216" y="842" width="3" height="1"/>
<rect x="222" y="842" width="3" height="1"/>
<rect x="228" y="842" width="3" height="1"/>
<rect x="234" y="842" width="3" height="1"/>
<rect x="240" y="842" width="3" height="1"/>
<rect x="246" y="842" width="3" height="1"/>
<rect x="252" y="842" width="3" height="1"/>
<rect x="258" y="842" width="3" height="1"/>
<rect x="264" y="842" width="3" height="1"/>
<rect x="270" y="842" width="3" height="1"/>
<rect x="276" y="842" width="3" height="1"/>
<rect x="282" y="842" width="3" height="1"/>
<rect x="288" y="842" width="3" height="1"/>
<rect x="294" y="842" width="3" height="1"/>
<rect x="300" y="842" width="3" height="1"/>
<rect x="306" y="842" width="3" height="1"/>
<rect x="312" y="842" width="3" height="1"/>
<rect x="318" y="842" width="3" height="1"/>
<rect x="324" y="842" width="3" height="1"/>
<rect x="330" y="842" width="3" height="1"/>
<rect x="336" y="842" width="3" height="1"/>
<rect x="342" y="842" width="3" height="1"/>
<rect x="348" y="842" width="3" height="1"/>
<rect x="354" y="842" width="3" height="1"/>
<rect x="360" y="842" width="3" height="1"/>
<rect x="366" y="842" width="3" height="1"/>
<rect x="372" y="842" width="3" height="1"/>
<rect x="378" y="842" width="3" height="1"/>
<rect x="384" y="842" width="3" height="1"/>
<rect x="390" y="842" width="3" height="1"/>
<rect x="396" y="842" width="3" height="1"/>
<rect x="402" y="842" width="3" height="1"/>
<rect x="408" y="842" width="3" height="1"/>
<rect x="414" y="842" width="3" height="1"/>
<rect x="420" y="842" width="3" height="1"/>
<rect x="426" y="842" width="3" height="1"/>
<rect x="432" y="842" width="3" height="1"/>
<rect x="438" y="842" width="3" height="1"/>
<rect x="444" y="842" width="3" height="1"/>
<rect x="450" y="842" width="3" height="1"/>
<rect x="456" y="842" width="3" height="1"/>
<rect x="462" y="842" width="3" height="1"/>
<rect x="468" y="842" width="3" height="1"/>
<rect x="474" y="842" width="3" height="1"/>
<rect x="480" y="842" width="3" height="1"/>
<rect x="486" y="842" width="3" height="1"/>
<rect x="492" y="842" width="3" height="1"/>
<rect x="498" y="842" width="3" height="1"/>
<rect x="504" y="842" width="3" height="1"/>
<rect x="510" y="842" width="3" height="1"/>
<rect x="516" y="842" width="3" height="1"/>
<rect x="522" y="842" width="3" height="1"/>
<rect x="528" y="842" width="3" height="1"/>
<rect x="534" y="842" width="3" height="1"/>
<rect x="540" y="842" width="3" height="1"/>
<rect x="546" y="842" width="3" height="1"/>
<rect x="552" y="842" width="3" height="1"/>
<rect x="558" y="842" width="3" height="1"/>
<rect x="564" y="842" width="3" height="1"/>
<rect x="570" y="842" width="3" height="1"/>
<rect x="576" y="842" width="3" height="1"/>
<rect x="582" y="842" width="3" height="1"/>
<rect x="588" y="842" width="3" height="1"/>
<rect x="594" y="842" width="3" height="1"/>
<rect x="600" y="842" width="3" height="1"/>
<rect x="606" y="842" width="3" height="1"/>
<rect x="612" y="842" width="3" height="1"/>
<rect x="618" y="842" width="3" height="1"/>
<rect x="624" y="842" width="3" height="1"/>
<rect x="630" y="842" width="3" height="1"/>
<rect x="636" y="842" width="3" height="1"/>
<rect x="642" y="842" width="3" height="1"/>
<rect x="648" y="842" width="3" height="1"/>
<rect x="654" y="842" width="3" height="1"/>
<rect x="660" y="842" width="3" height="1"/>
<rect x="666" y="842" width="3" height="1"/>
<rect x="672" y="842" width="3" height="1"/>
<rect x="678" y="842" width="3" height="1"/>
<rect x="684" y="842" width="3" height="1"/>
<rect x="690" y="842" width="3" height="1"/>
<rect x="696" y="842" width="3" height="1"/>
<rect x="702" y="842" width="3" height="1"/>
<rect x="708" y="842" width="3" height="1"/>
<rect x="714" y="842" width="3" height="1"/>
<rect x="720" y="842" width="3" height="1"/>
<rect x="726" y="842" width="3" height="1"/>
<rect x="732" y="842" width="3" height="1"/>
<rect x="738" y="842" width="3" height="1"/>
<rect x="744" y="842" width="3" height="1"/>
<rect x="750" y="842" width="3" height="1"/>
<rect x="756" y="842" width="3" height="1"/>
<rect x="762" y="842" width="3" height="1"/>
<rect x="768" y="842" width="3" height="1"/>
<rect x="774" y="842" width="3" height="1"/>
<rect x="780" y="842" width="3" height="1"/>
<rect x="786" y="842" width="3" height="1"/>
<rect x="792" y="842" width="3" height="1"/>
<rect x="798" y="842" width="3" height="1"/>
<rect x="804" y="842" width="3" height="1"/>
<rect x="810" y="842" width="3" height="1"/>
<rect x="816" y="842" width="3" height="1"/>
<rect x="822" y="842" width="3" height="1"/>
<rect x="828" y="842" width="3" height="1"/>
<rect x="834" y="842" width="3" height="1"/>
<rect x="840" y="842" width="3" height="1"/>
<rect x="846" y="842" width="3" height="1"/>
<rect x="852" y="842" width="3" height="1"/>
<rect x="858" y="842" width="3" height="1"/>
<rect x="864" y="842" width="3" height="1"/>
<rect x="870" y="842" width="3" height="1"/>
<rect x="876" y="842" width="3" height="1"/>
<rect x="882" y="842" width="3" height="1"/>
<rect x="888" y="842" width="3" height="1"/>
<rect x="894" y="842" width="3" height="1"/>
<rect x="900" y="842" width="3" height="1"/>
<rect x="906" y="842" width="3" height="1"/>
<rect x="912" y="842" width="3" height="1"/>
<rect x="918" y="842" width="3" height="1"/>
<rect x="924" y="842" width="3" height="1"/>
<rect x="930" y="842" width="3" height="1"/>
<rect x="936" y="842" width="3" height="1"/>
<rect x="942" y="842" width="3" height="1"/>
<rect x="948" y="842" width="3" height="1"/>
<rect x="954" y="842" width="3" height="1"/>
<rect x="960" y="842" width="3" height="1"/>
<rect x="966" y="842" width="3" height="1"/>
<rect x="972" y="842" width="3" height="1"/>
<rect x="978" y="842" width="3" height="1"/>
<rect x="984" y="842" width="3" height="1"/>
<rect x="990" y="842" width="3" height="1"/>
<rect x="996" y="842" width="3" height="1"/>
<rect x="1002" y="842" width="3" height="1"/>
<rect x="1008" y="842" width="3" height="1"/>
<rect x="1014" y="842" width="3" height="1"/>
<rect x="1020" y="842" width="3" height="1"/>
<rect x="1026" y="842" width="3" height="1"/>
<rect x="1032" y="842" width="3" height="1"/>
<rect x="1038" y="842" width="3" height="1"/>
<rect x="1044" y="842" width="3" height="1"/>
<rect x="1050" y="842" width="3" height="1"/>
<rect x="1056" y="842" width="3" height="1"/>
<rect x="1062" y="842" width="3" height="1"/>
<rect x="1068" y="842" width="3" height="1"/>
<rect x="1074" y="842" width="3" height="1"/>
<rect x="1080" y="842" width="3" height="1"/>
<rect x="1086" y="842" width="3" height="1"/>
<rect x="1092" y="842" width="3" height="1"/>
<rect x="1098" y="842" width="3" height="1"/>
<rect x="1104" y="842" width="3" height="1"/>
<rect x="1110" y="842" width="3" height="1"/>
<rect x="1116" y="842" width="3" height="1"/>
<rect x="1122" y="842" width="3" height="1"/>
<rect x="1128" y="842" width="3" height="1"/>
<rect x="1134" y="842" width="3" height="1"/>
<rect x="1140" y="842" width="3" height="1"/>
<rect x="1146" y="842" width="3" height="1"/>
<rect x="1152" y="842" width="3" height="1"/>
<rect x="1158" y="842" width="3" height="1"/>
<rect x="1164" y="842" width="3" height="1"/>
<rect x="1170" y="842" width="3" height="1"/>
<rect x="1176" y="842" width="3" height="1"/>
<rect x="1182" y="842" width="3" height="1"/>
<rect x="1188" y="842" width="3" height="1"/>
<rect x="1194" y="842" width="3" height="1"/>
<rect x="1200" y="842" width="3" height="1"/>
<rect x="1206" y="842" width="3" height="1"/>
<rect x="1212" y="842" width="3" height="1"/>
<rect x="1218" y="842" width="3" height="1"/>
<rect x="1224" y="842" width="3" height="1"/>
<rect x="1230" y="842" width="3" height="1"/>
<rect x="1236" y="842" width="3" height="1"/>
<rect x="1242" y="842" width="3" height="1"/>
<rect x="1248" y="842" width="3" height="1"/>
<rect x="1254" y="842" width="3" height="1"/>
<rect x="1260" y="842" width="3" height="1"/>
<rect x="1266" y="842" width="3" height="1"/>
<rect x="1272" y="842" width="3" height="1"/>
<rect x="1278" y="842" width="3" height="1"/>
<rect x="1284" y="842" width="3" height="1"/>
<rect x="1290" y="842" width="3" height="1"/>
<rect x="1296" y="842" width="3" height="1"/>
<rect x="1302" y="842" width="3" height="1"/>
<rect x="1308" y="842" width="3" height="1"/>
<rect x="1314" y="842" width="3" height="1"/>
<rect x="1320" y="842" width="3" height="1"/>
<rect x="1326" y="842" width="3" height="1"/>
<rect x="1332" y="842" width="3" height="1"/>
<rect x="1338" y="842" width="3" height="1"/>
<rect x="1344" y="842" width="3" height="1"/>
<rect x="1350" y="842" width="3" height="1"/>
<rect x="1356" y="842" width="3" height="1"/>
<rect x="1362" y="842" width="3" height="1"/>
<rect x="1368" y="842" width="3" height="1"/>
<rect x="1374" y="842" width="3" height="1"/>
<rect x="1380" y="842" width="3" height="1"/>
<rect x="1386" y="842" width="3" height="1"/>
<rect x="1392" y="842" width="3" height="1"/>
<rect x="1398" y="842" width="3" height="1"/>
<rect x="1404" y="842" width="3" height="1"/>
<rect x="1410" y="842" width="3" height="1"/>
<rect x="1416" y="842" width="3" height="1"/>
<rect x="1422" y="842" width="3" height="1"/>
<rect x="1428" y="842" width="3" height="1"/>
<rect x="1434" y="842" width="3" height="1"/>
<rect x="1440" y="842" width="3" height="1"/>
<rect x="1446" y="842" width="3" height="1"/>
<rect x="1452" y="842" width="3" height="1"/>
<rect x="1458" y="842" width="3" height="1"/>
<rect x="1464" y="842" width="3" height="1"/>
<rect x="1470" y="842" width="3" height="1"/>
<rect x="1476" y="842" width="3" height="1"/>
<rect x="1482" y="842" width="3" height="1"/>
<rect x="1488" y="842" width="3" height="1"/>
<rect x="1494" y="842" width="3" height="1"/>
<rect x="1500" y="842" width="3" height="1"/>
<rect x="1506" y="842" width="3" height="1"/>
<rect x="1512" y="842" width="3" height="1"/>
<rect x="1518" y="842" width="3" height="1"/>
<rect x="1524" y="842" width="3" height="1"/>
<rect x="1530" y="842" width="3" height="1"/>
<rect x="1536" y="842" width="3" height="1"/>
<rect x="1542" y="842" width="3" height="1"/>
<rect x="1548" y="842" width="3" height="1"/>
<rect x="1554" y="842" width="3" height="1"/>
<rect x="1560" y="842" width="3" height="1"/>
<rect x="1566" y="842" width="3" height="1"/>
<rect x="1572" y="842" width="3" height="1"/>
<rect x="1578" y="842" width="3" height="1"/>
<rect x="1584" y="842" width="3" height="1"/>
<rect x="1590" y="842" width="3" height="1"/>
<rect x="1596" y="842" width="3" height="1"/>
<rect x="1602" y="842" width="3" height="1"/>
<rect x="1608" y="842" width="3" height="1"/>
<rect x="1614" y="842" width="3" height="1"/>
<rect x="1620" y="842" width="3" height="1"/>
<rect x="1626" y="842" width="3" height="1"/>
<rect x="1632" y="842" width="3" height="1"/>
<rect x="1638" y="842" width="3" height="1"/>
<rect x="1644" y="842" width="3" height="1"/>
<rect x="1650" y="842" width="3" height="1"/>
<rect x="1656" y="842" width="3" height="1"/>
<rect x="1662" y="842" width="3" height="1"/>
<rect x="1668" y="842" width="3" height="1"/>
<rect x="1674" y="842" width="3" height="1"/>
</g>
<path clip-path="url(#crsi)" fill="#1E90FF" shape-rendering="crispEdges" d="M5 829h1v1h-1zM6 828h1v1h-1zM7 827h1v1h-1zM8 826h1v1h-1zM9 825h1v1h-1zM10 824h1v1h-1zM11 823h1v1h-1zM12 822h1v1h-1zM13 821h1v1h-1zM14 822h1v1h-1zM15 823h1v1h-1zM16 824h1v1h-1zM17 825h1v1h-1zM17 826h1v1h-1zM18 827h1v1h-1zM19 828h1v1h-1zM20 829h1v1h-1zM21 830h2v1h-2zM23 829h2v1h-2zM25 828h3v1h-3zM28 827h3v1h-3zM31 826h2v1h-2zM33 825h3v1h-3zM36 824h2v1h-2zM38 823h1v1h-1zM39 822h1v1h-1zM40 821h1v1h-1zM41 820h2v1h-2zM43 819h1v1h-1zM44 818h1v1h-1zM45 817h2v1h-2zM47 818h2v1h-2zM49 819h3v1h-3zM52 820h5v1h-5zM57 821h5v1h-5zM62 822h1v1h-1zM63 823h1v1h-1zM64 824h1v1h-1zM65 825h1v1h-1zM65 826h1v1h-1zM66 827h1v1h-1zM67 828h1v1h-1zM68 829h1v1h-1zM69 830h1v1h-1zM70 829h1v1h-1zM71 828h2v1h-2zM73 827h1v1h-1zM74 826h1v1h-1zM75 825h2v1h-2zM77 824h2v1h-2zM79 823h2v1h-2zM81 822h3v1h-3zM84 821h3v1h-3zM87 820h4v1h-4zM91 819h6v1h-6zM97 818h8v1h-8zM105 819h6v1h-6zM111 818h2v1h-2zM113 817h3v1h-3zM116 816h2v1h-2zM118 815h1v1h-1zM119 814h2v1h-2zM121 813h1v1h-1zM122 812h1v1h-1zM123 811h2v1h-2zM125 810h1v1h-1zM126 809h2v1h-2zM128 808h2v1h-2zM130 807h2v1h-2zM132 806h3v1h-3zM135 807h2v1h-2zM137 808h3v1h-3zM140 809h3v1h-3zM143 808h4v1h-4zM147 807h3v1h-3zM150 806h2v1h-2zM152 805h2v1h-2zM154 804h2v1h-2zM156 803h2v1h-2zM158 802h2v1h-2zM160 801h1v1h-1zM161 800h2v1h-2zM163 799h2v1h-2zM165 798h2v1h-2zM167 797h2v1h-2zM169 796h3v1h-3zM172 795h5v1h-5zM177 794h6v1h-6zM183 795h4v1h-4zM187 796h3v1h-3zM190 797h1v1h-1zM191 798h1v1h-1zM192 799h1v1h-1zM193 800h2v1h-2zM195 801h1v1h-1zM196 802h1v1h-1zM197 803h1v1h-1zM198 804h2v1h-2zM200 805h1v1h-1zM201 806h2v1h-2zM203 807h2v1h-2zM205 808h4v1h-4zM209 807h6v1h-6zM215 806h2v1h-2zM217 805h3v1h-3zM220 804h5v1h-5zM225 805h6v1h-6zM231 804h4v1h-4zM235 803h3v1h-3zM238 804h2v1h-2zM240 805h2v1h-2zM242 806h2v1h-2zM244 807h3v1h-3zM247 808h4v1h-4zM251 809h3v1h-3zM254 810h2v1h-2zM256 811h2v1h-2zM258 812h2v1h-2zM260 813h18v1h-18zM278 812h2v1h-2zM280 811h1v1h-1zM281 810h2v1h-2zM283 809h2v1h-2zM285 808h2v1h-2zM287 807h2v1h-2zM289 806h3v1h-3zM292 805h3v1h-3zM295 804h2v1h-2zM297 803h3v1h-3zM300 802h2v1h-2zM302 803h2v1h-2zM304 804h2v1h-2zM306 805h2v1h-2zM308 806h3v1h-3zM311 805h2v1h-2zM313 804h3v1h-3zM316 803h2v1h-2zM318 804h1v1h-1zM318 805h1v1h-1zM319 806h1v1h-1zM320 807h1v1h-1zM320 808h1v1h-1zM321 809h1v1h-1zM322 810h1v1h-1zM322 811h1v1h-1zM323 812h1v1h-1zM324 813h1v1h-1zM324 814h1v1h-1zM325 815h1v1h-1zM326 816h1v1h-1zM327 817h1v1h-1zM328 818h1v1h-1zM329 819h2v1h-2zM331 820h1v1h-1zM332 821h1v1h-1zM333 822h1v1h-1zM334 821h2v1h-2zM336 820h2v1h-2zM338 819h2v1h-2zM340 818h2v1h-2zM342 819h1v1h-1zM343 820h2v1h-2zM345 821h1v1h-1zM346 822h1v1h-1zM347 823h2v1h-2zM349 824h1v1h-1zM350 823h1v1h-1zM351 822h2v1h-2zM353 821h1v1h-1zM354 820h1v1h-1zM355 819h2v1h-2zM357 818h1v1h-1zM358 817h1v1h-1zM359 816h1v1h-1zM360 815h1v1h-1zM361 814h1v1h-1zM362 813h1v1h-1zM363 812h1v1h-1zM364 811h1v1h-1zM365 810h1v1h-1zM366 809h1v1h-1zM367 808h1v1h-1zM368 807h1v1h-1zM369 806h2v1h-2zM371 805h1v1h-1zM372 804h1v1h-1zM373 803h4v1h-4zM377 804h6v1h-6zM383 803h2v1h-2zM385 802h3v1h-3zM388 801h5v1h-5zM393 800h6v1h-6zM399 799h4v1h-4zM403 798h3v1h-3zM406 799h1v1h-1zM407 800h2v1h-2zM409 801h1v1h-1zM410 802h1v1h-1zM411 803h2v1h-2zM413 804h1v1h-1zM414 805h1v1h-1zM415 806h2v1h-2zM417 807h1v1h-1zM418 808h1v1h-1zM419 809h2v1h-2zM421 810h2v1h-2zM423 809h4v1h-4zM427 808h14v1h-14zM441 807h5v1h-5zM446 806h2v1h-2zM448 805h1v1h-1zM449 804h2v1h-2zM451 803h2v1h-2zM453 802h4v1h-4zM457 803h6v1h-6zM463 802h4v1h-4zM467 801h4v1h-4zM471 802h4v1h-4zM475 803h6v1h-6zM481 804h5v1h-5zM486 803h2v1h-2zM488 802h2v1h-2zM490 801h2v1h-2zM492 800h5v1h-5zM497 799h5v1h-5zM502 800h1v1h-1zM503 801h2v1h-2zM505 802h1v1h-1zM506 803h1v1h-1zM507 804h2v1h-2zM509 805h12v1h-12zM521 804h6v1h-6zM527 803h4v1h-4zM531 802h3v1h-3zM534 801h1v1h-1zM535 800h1v1h-1zM536 799h1v1h-1zM537 798h1v1h-1zM537 797h1v1h-1zM538 796h1v1h-1zM539 795h1v1h-1zM540 794h1v1h-1zM541 793h12v1h-12zM553 794h5v1h-5zM558 793h2v1h-2zM560 792h2v1h-2zM562 791h2v1h-2zM564 790h2v1h-2zM566 791h1v1h-1zM566 792h1v1h-1zM567 793h1v1h-1zM567 794h1v1h-1zM568 795h1v1h-1zM568 796h1v1h-1zM569 797h1v1h-1zM570 798h1v1h-1zM570 799h1v1h-1zM571 800h1v1h-1zM571 801h1v1h-1zM572 802h1v1h-1zM572 803h1v1h-1zM573 804h2v1h-2zM575 803h2v1h-2zM577 802h3v1h-3zM580 801h2v1h-2zM582 802h2v1h-2zM584 803h1v1h-1zM585 804h2v1h-2zM587 805h2v1h-2zM589 806h1v1h-1zM590 805h2v1h-2zM592 804h2v1h-2zM594 803h2v1h-2zM596 802h2v1h-2zM598 803h1v1h-1zM599 804h1v1h-1zM600 805h1v1h-1zM601 806h1v1h-1zM601 807h1v1h-1zM602 808h1v1h-1zM603 809h1v1h-1zM604 810h1v1h-1zM605 811h4v1h-4zM609 812h6v1h-6zM615 813h2v1h-2zM617 814h3v1h-3zM620 815h10v1h-10zM630 816h1v1h-1zM631 817h1v1h-1zM631 818h1v1h-1zM632 819h1v1h-1zM633 820h1v1h-1zM634 821h1v1h-1zM635 822h1v1h-1zM635 823h1v1h-1zM636 824h1v1h-1zM637 825h1v1h-1zM638 824h1v1h-1zM638 823h1v1h-1zM639 822h1v1h-1zM639 821h1v1h-1zM640 820h1v1h-1zM640 819h1v1h-1zM641 818h1v1h-1zM641 817h1v1h-1zM642 816h1v1h-1zM642 815h1v1h-1zM643 814h1v1h-1zM643 813h1v1h-1zM644 812h1v1h-1zM644 811h1v1h-1zM645 810h1v1h-1zM645 809h1v1h-1zM646 808h2v1h-2zM648 807h1v1h-1zM649 806h2v1h-2zM651 805h2v1h-2zM653 804h2v1h-2zM655 803h2v1h-2zM657 802h3v1h-3zM660 801h5v1h-5zM665 800h16v1h-16zM681 801h5v1h-5zM686 802h1v1h-1zM687 803h1v1h-1zM688 804h1v1h-1zM689 805h2v1h-2zM691 806h1v1h-1zM692 807h1v1h-1zM693 808h1v1h-1zM693 809h1v1h-1zM694 810h1v1h-1zM694 811h1v1h-1zM695 812h1v1h-1zM695 813h1v1h-1zM696 814h1v1h-1zM696 815h1v1h-1zM696 816h1v1h-1zM697 817h1v1h-1zM697 818h1v1h-1zM698 819h1v1h-1zM698 820h1v1h-1zM698 821h1v1h-1zM699 822h1v1h-1zM699 823h1v1h-1zM700 824h1v1h-1zM700 825h1v1h-1zM701 826h1v1h-1zM701 827h2v1h-2zM703 826h2v1h-2zM705 825h3v1h-3zM708 824h3v1h-3zM711 825h4v1h-4zM715 826h6v1h-6zM721 825h6v1h-6zM727 824h4v1h-4zM731 823h6v1h-6zM737 824h5v1h-5zM742 825h1v1h-1zM743 826h1v1h-1zM744 827h1v1h-1zM745 828h2v1h-2zM747 829h1v1h-1zM748 830h1v1h-1zM749 831h1v1h-1zM750 830h1v1h-1zM751 829h1v1h-1zM752 828h1v1h-1zM753 827h1v1h-1zM754 826h1v1h-1zM755 825h1v1h-1zM756 824h1v1h-1zM757 823h2v1h-2zM759 824h2v1h-2zM761 825h3v1h-3zM764 826h5v1h-5zM769 825h5v1h-5zM774 826h1v1h-1zM774 827h1v1h-1zM775 828h1v1h-1zM776 829h1v1h-1zM776 830h1v1h-1zM777 831h1v1h-1zM778 832h1v1h-1zM778 833h1v1h-1zM779 834h1v1h-1zM780 835h1v1h-1zM780 836h1v1h-1zM781 837h1v1h-1zM782 836h1v1h-1zM783 835h1v1h-1zM784 834h1v1h-1zM785 833h1v1h-1zM786 832h1v1h-1zM787 831h1v1h-1zM788 830h1v1h-1zM789 829h2v1h-2zM791 828h2v1h-2zM793 827h3v1h-3zM796 826h3v1h-3zM799 825h2v1h-2zM801 824h3v1h-3zM804 823h2v1h-2zM806 822h1v1h-1zM807 821h1v1h-1zM808 820h1v1h-1zM809 819h1v1h-1zM810 818h1v1h-1zM811 817h1v1h-1zM812 816h1v1h-1zM813 815h2v1h-2zM815 814h4v1h-4zM819 813h12v1h-12zM831 812h2v1h-2zM833 811h3v1h-3zM836 810h2v1h-2zM838 811h2v1h-2zM840 812h2v1h-2zM842 813h2v1h-2zM844 814h2v1h-2zM846 815h1v1h-1zM847 816h1v1h-1zM848 817h1v1h-1zM849 818h1v1h-1zM849 819h1v1h-1zM850 820h1v1h-1zM851 821h1v1h-1zM852 822h1v1h-1zM853 823h1v1h-1zM854 824h2v1h-2zM856 825h2v1h-2zM858 826h2v1h-2zM860 827h3v1h-3zM863 828h2v1h-2zM865 829h3v1h-3zM868 830h3v1h-3zM871 829h2v1h-2zM873 828h3v1h-3zM876 827h2v1h-2zM878 826h1v1h-1zM879 825h1v1h-1zM880 824h1v1h-1zM881 823h2v1h-2zM883 822h1v1h-1zM884 821h1v1h-1zM885 820h9v1h-9zM894 819h1v1h-1zM894 818h1v1h-1zM895 817h1v1h-1zM896 816h1v1h-1zM896 815h1v1h-1zM897 814h1v1h-1zM898 813h1v1h-1zM898 812h1v1h-1zM899 811h1v1h-1zM900 810h1v1h-1zM900 809h1v1h-1zM901 808h2v1h-2zM903 809h2v1h-2zM905 810h3v1h-3zM908 811h5v1h-5zM913 812h8v1h-8zM921 811h5v1h-5zM926 810h2v1h-2zM928 809h1v1h-1zM929 808h2v1h-2zM931 807h2v1h-2zM933 806h1v1h-1zM934 807h2v1h-2zM936 808h1v1h-1zM937 809h2v1h-2zM939 810h2v1h-2zM941 811h1v1h-1zM942 810h2v1h-2zM944 809h2v1h-2zM946 808h2v1h-2zM948 807h3v1h-3zM951 808h4v1h-4zM955 809h6v1h-6zM961 808h5v1h-5zM966 807h1v1h-1zM967 806h2v1h-2zM969 805h1v1h-1zM970 804h1v1h-1zM971 803h2v1h-2zM973 802h10v1h-10zM983 803h2v1h-2zM985 804h3v1h-3zM988 805h5v1h-5zM993 804h8v1h-8zM1001 803h5v1h-5zM1006 804h2v1h-2zM1008 805h1v1h-1zM1009 806h2v1h-2zM1011 807h2v1h-2zM1013 808h4v1h-4zM1017 809h5v1h-5zM1022 808h2v1h-2zM1024 807h1v1h-1zM1025 806h2v1h-2zM1027 805h2v1h-2zM1029 804h1v1h-1zM1030 805h1v1h-1zM1030 806h1v1h-1zM1031 807h1v1h-1zM1031 808h1v1h-1zM1032 809h1v1h-1zM1033 810h1v1h-1zM1033 811h1v1h-1zM1034 812h1v1h-1zM1035 813h1v1h-1zM1035 814h1v1h-1zM1036 815h1v1h-1zM1036 816h1v1h-1zM1037 817h1v1h-1zM1038 818h1v1h-1zM1039 819h1v1h-1zM1040 820h1v1h-1zM1041 821h1v1h-1zM1042 822h1v1h-1zM1043 823h1v1h-1zM1044 824h1v1h-1zM1045 825h1v1h-1zM1046 824h1v1h-1zM1046 823h1v1h-1zM1047 822h1v1h-1zM1047 821h1v1h-1zM1048 820h1v1h-1zM1048 819h1v1h-1zM1049 818h1v1h-1zM1050 817h1v1h-1zM1050 816h1v1h-1zM1051 815h1v1h-1zM1051 814h1v1h-1zM1052 813h1v1h-1zM1052 812h1v1h-1zM1053 811h2v1h-2zM1055 812h4v1h-4zM1059 813h3v1h-3zM1062 814h2v1h-2zM1064 815h1v1h-1zM1065 816h2v1h-2zM1067 817h2v1h-2zM1069 818h2v1h-2zM1071 819h2v1h-2zM1073 820h3v1h-3zM1076 821h2v1h-2zM1077 822h1v1h-1zM1078 823h1v1h-1zM1078 824h1v1h-1zM1079 825h1v1h-1zM1079 826h1v1h-1zM1080 827h1v1h-1zM1080 828h1v1h-1zM1081 829h1v1h-1zM1081 830h1v1h-1zM1082 831h1v1h-1zM1082 832h1v1h-1zM1083 833h1v1h-1zM1083 834h1v1h-1zM1084 835h1v1h-1zM1084 836h1v1h-1zM1085 837h1v1h-1zM1085 838h9v1h-9zM1093 837h1v1h-1zM1094 836h1v1h-1zM1094 835h1v1h-1zM1095 834h1v1h-1zM1095 833h1v1h-1zM1096 832h1v1h-1zM1096 831h1v1h-1zM1096 830h1v1h-1zM1097 829h1v1h-1zM1097 828h1v1h-1zM1098 827h1v1h-1zM1098 826h1v1h-1zM1098 825h1v1h-1zM1099 824h1v1h-1zM1099 823h1v1h-1zM1100 822h1v1h-1zM1100 821h1v1h-1zM1101 820h1v1h-1zM1101 819h4v1h-4zM1105 820h14v1h-14zM1119 821h2v1h-2zM1121 822h3v1h-3zM1124 823h2v1h-2zM1126 822h1v1h-1zM1127 821h2v1h-2zM1129 820h1v1h-1zM1130 819h1v1h-1zM1131 818h2v1h-2zM1133 817h2v1h-2zM1135 818h2v1h-2zM1137 819h3v1h-3zM1140 820h13v1h-13zM1153 819h5v1h-5zM1158 820h1v1h-1zM1159 821h2v1h-2zM1161 822h1v1h-1zM1162 823h1v1h-1zM1163 824h2v1h-2zM1165 825h1v1h-1zM1166 824h2v1h-2zM1168 823h1v1h-1zM1169 822h2v1h-2zM1171 821h2v1h-2zM1173 820h2v1h-2zM1175 819h4v1h-4zM1179 818h4v1h-4zM1183 817h2v1h-2zM1185 816h3v1h-3zM1188 815h5v1h-5zM1193 814h5v1h-5zM1198 815h2v1h-2zM1200 816h1v1h-1zM1201 817h2v1h-2zM1203 818h2v1h-2zM1205 819h2v1h-2zM1207 818h4v1h-4zM1211 817h14v1h-14zM1225 816h6v1h-6zM1231 817h4v1h-4zM1235 818h4v1h-4zM1239 817h2v1h-2zM1241 816h3v1h-3zM1244 815h2v1h-2zM1246 814h2v1h-2zM1248 813h1v1h-1zM1249 812h2v1h-2zM1251 811h2v1h-2zM1253 810h1v1h-1zM1254 809h1v1h-1zM1255 808h1v1h-1zM1256 807h1v1h-1zM1257 806h2v1h-2zM1259 805h1v1h-1zM1260 804h1v1h-1zM1261 803h12v1h-12zM1273 802h6v1h-6zM1279 801h2v1h-2zM1281 800h3v1h-3zM1284 799h5v1h-5zM1289 798h6v1h-6zM1295 797h4v1h-4zM1299 796h4v1h-4zM1303 795h4v1h-4zM1307 794h4v1h-4zM1311 793h4v1h-4zM1315 792h6v1h-6zM1321 793h5v1h-5zM1326 794h1v1h-1zM1327 795h1v1h-1zM1327 796h1v1h-1zM1328 797h1v1h-1zM1329 798h1v1h-1zM1330 799h1v1h-1zM1331 800h1v1h-1zM1331 801h1v1h-1zM1332 802h1v1h-1zM1333 803h1v1h-1zM1334 804h1v1h-1zM1334 805h1v1h-1zM1335 806h1v1h-1zM1336 807h1v1h-1zM1337 808h1v1h-1zM1337 809h1v1h-1zM1338 810h1v1h-1zM1339 811h1v1h-1zM1340 812h1v1h-1zM1340 813h1v1h-1zM1341 814h2v1h-2zM1343 813h4v1h-4zM1347 812h3v1h-3zM1350 811h2v1h-2zM1352 810h2v1h-2zM1354 809h2v1h-2zM1356 808h5v1h-5zM1361 807h8v1h-8zM1369 806h6v1h-6zM1375 807h4v1h-4zM1379 808h3v1h-3zM1382 809h1v1h-1zM1383 810h1v1h-1zM1384 811h1v1h-1zM1385 812h2v1h-2zM1387 813h1v1h-1zM1388 814h1v1h-1zM1389 815h2v1h-2zM1391 814h2v1h-2zM1393 813h3v1h-3zM1396 812h3v1h-3zM1399 813h4v1h-4zM1403 814h4v1h-4zM1407 815h2v1h-2zM1409 816h3v1h-3zM1412 817h2v1h-2zM1414 816h2v1h-2zM1416 815h2v1h-2zM1418 814h2v1h-2zM1420 813h3v1h-3zM1423 814h2v1h-2zM1425 815h3v1h-3zM1428 816h2v1h-2zM1430 815h1v1h-1zM1431 814h1v1h-1zM1432 813h1v1h-1zM1433 812h1v1h-1zM1434 811h1v1h-1zM1435 810h1v1h-1zM1436 809h1v1h-1zM1437 808h1v1h-1zM1438 807h1v1h-1zM1439 806h1v1h-1zM1440 805h1v1h-1zM1441 804h1v1h-1zM1442 803h1v1h-1zM1443 802h1v1h-1zM1444 801h1v1h-1zM1445 800h12v1h-12zM1457 799h5v1h-5zM1462 798h1v1h-1zM1463 797h1v1h-1zM1464 796h1v1h-1zM1465 795h2v1h-2zM1467 794h1v1h-1zM1468 793h1v1h-1zM1469 792h4v1h-4zM1473 791h5v1h-5zM1477 792h1v1h-1zM1477 793h1v1h-1zM1478 794h1v1h-1zM1478 795h1v1h-1zM1478 796h1v1h-1zM1478 797h1v1h-1zM1478 798h1v1h-1zM1479 799h1v1h-1zM1479 800h1v1h-1zM1479 801h1v1h-1zM1479 802h1v1h-1zM1480 803h1v1h-1zM1480 804h1v1h-1zM1480 805h1v1h-1zM1480 806h1v1h-1zM1480 807h1v1h-1zM1481 808h1v1h-1zM1481 809h1v1h-1zM1481 810h1v1h-1zM1481 811h1v1h-1zM1481 812h1v1h-1zM1482 813h1v1h-1zM1482 814h1v1h-1zM1482 815h1v1h-1zM1482 816h1v1h-1zM1482 817h1v1h-1zM1483 818h1v1h-1zM1483 819h1v1h-1zM1483 820h1v1h-1zM1483 821h1v1h-1zM1484 822h1v1h-1zM1484 823h1v1h-1zM1484 824h1v1h-1zM1484 825h1v1h-1zM1484 826h1v1h-1zM1485 827h1v1h-1zM1485 828h1v1h-1zM1485 829h1v1h-1zM1486 830h1v1h-1zM1487 831h1v1h-1zM1488 832h1v1h-1zM1489 833h1v1h-1zM1490 834h1v1h-1zM1491 835h1v1h-1zM1492 836h1v1h-1zM1493 837h1v1h-1zM1494 836h2v1h-2zM1496 835h1v1h-1zM1497 834h2v1h-2zM1499 833h2v1h-2zM1501 832h9v1h-9zM1510 833h2v1h-2zM1512 834h2v1h-2zM1514 835h2v1h-2zM1516 836h2v1h-2zM1518 835h1v1h-1zM1519 834h1v1h-1zM1520 833h1v1h-1zM1521 832h2v1h-2zM1523 831h1v1h-1zM1524 830h1v1h-1zM1525 829h9v1h-9zM1534 828h1v1h-1zM1534 827h1v1h-1zM1535 826h1v1h-1zM1536 825h1v1h-1zM1536 824h1v1h-1zM1537 823h1v1h-1zM1538 822h1v1h-1zM1538 821h1v1h-1zM1539 820h1v1h-1zM1540 819h1v1h-1zM1540 818h1v1h-1zM1541 817h4v1h-4zM1545 818h5v1h-5zM1550 819h1v1h-1zM1551 820h1v1h-1zM1552 821h1v1h-1zM1553 822h1v1h-1zM1553 823h1v1h-1zM1554 824h1v1h-1zM1555 825h1v1h-1zM1556 826h1v1h-1zM1557 827h1v1h-1zM1558 826h1v1h-1zM1559 825h1v1h-1zM1560 824h1v1h-1zM1561 823h1v1h-1zM1562 822h1v1h-1zM1563 821h1v1h-1zM1564 820h1v1h-1zM1565 819h2v1h-2zM1567 820h4v1h-4zM1571 821h3v1h-3zM1574 820h1v1h-1zM1574 819h1v1h-1zM1575 818h1v1h-1zM1575 817h1v1h-1zM1576 816h1v1h-1zM1576 815h1v1h-1zM1577 814h1v1h-1zM1577 813h1v1h-1zM1578 812h1v1h-1zM1578 811h1v1h-1zM1579 810h1v1h-1zM1579 809h1v1h-1zM1580 808h1v1h-1zM1580 807h1v1h-1zM1581 806h1v1h-1zM1581 805h2v1h-2zM1583 806h2v1h-2zM1585 807h3v1h-3zM1588 808h10v1h-10zM1598 807h2v1h-2zM1600 806h2v1h-2zM1602 805h2v1h-2zM1604 804h3v1h-3zM1607 803h4v1h-4zM1611 802h3v1h-3zM1614 803h1v1h-1zM1615 804h1v1h-1zM1616 805h1v1h-1zM1617 806h1v1h-1zM1618 807h1v1h-1zM1619 808h1v1h-1zM1620 809h1v1h-1zM1621 810h1v1h-1zM1622 809h1v1h-1zM1622 808h1v1h-1zM1623 807h1v1h-1zM1624 806h1v1h-1zM1624 805h1v1h-1zM1625 804h1v1h-1zM1626 803h1v1h-1zM1626 802h1v1h-1zM1627 801h1v1h-1zM1628 800h1v1h-1zM1628 799h1v1h-1zM1629 798h4v1h-4zM1633 799h22v1h-22zM1655 798h2v1h-2zM1657 797h3v1h-3zM1660 796h1v1h-1z"/>
<text x="9" y="771" font-size="10" fill="#000" text-anchor="start" textLength="68" lengthAdjust="spacingAndGlyphs" >RSI(14) 68.7493</text>
<g shape-rendering="crispEdges" fill="#000">
<rect x="5" y="879" width="1" height="3"/>
<rect x="69" y="879" width="1" height="3"/>
<rect x="133" y="879" width="1" height="3"/>
<rect x="197" y="879" width="1" height="3"/>
<rect x="261" y="879" width="1" height="3"/>
<rect x="325" y="879" width="1" height="3"/>
<rect x="389" y="879" width="1" height="3"/>
<rect x="453" y="879" width="1" height="3"/>
<rect x="517" y="879" width="1" height="3"/>
<rect x="581" y="879" width="1" height="3"/>
<rect x="645" y="879" width="1" height="3"/>
<rect x="709" y="879" width="1" height="3"/>
<rect x="773" y="879" width="1" height="3"/>
<rect x="837" y="879" width="1" height="3"/>
<rect x="901" y="879" width="1" height="3"/>
<rect x="965" y="879" width="1" height="3"/>
<rect x="1029" y="879" width="1" height="3"/>
<rect x="1093" y="879" width="1" height="3"/>
<rect x="1157" y="879" width="1" height="3"/>
<rect x="1221" y="879" width="1" height="3"/>
<rect x="1285" y="879" width="1" height="3"/>
<rect x="1349" y="879" width="1" height="3"/>
<rect x="1413" y="879" width="1" height="3"/>
<rect x="1477" y="879" width="1" height="3"/>
<rect x="1541" y="879" width="1" height="3"/>
<rect x="1605" y="879" width="1" height="3"/>
</g>
<text x="4.5" y="891" font-size="10" fill="#000" text-anchor="start" textLength="53.9" lengthAdjust="spacingAndGlyphs" >19 Nov 2020</text>
<text x="68.5" y="891" font-size="10" fill="#000" text-anchor="start" textLength="56.5" lengthAdjust="spacingAndGlyphs" >20 Nov 20:00</text>
<text x="132.5" y="891" font-size="10" fill="#000" text-anchor="start" textLength="56.5" lengthAdjust="spacingAndGlyphs" >24 Nov 00:00</text>
<text x="196.5" y="891" font-size="10" fill="#000" text-anchor="start" textLength="56.5" lengthAdjust="spacingAndGlyphs" >25 Nov 08:00</text>
<text x="260.5" y="891" font-size="10" fill="#000" text-anchor="start" textLength="56.5" lengthAdjust="spacingAndGlyphs" >26 Nov 16:00</text>
<text x="324.5" y="891" font-size="10" fill="#000" text-anchor="start" textLength="56.5" lengthAdjust="spacingAndGlyphs" >30 Nov 00:00</text>
<text x="388.5" y="891" font-size="10" fill="#000" text-anchor="start" textLength="51.2" lengthAdjust="spacingAndGlyphs" >1 Dec 08:00</text>
<text x="452.5" y="891" font-size="10" fill="#000" text-anchor="start" textLength="51.2" lengthAdjust="spacingAndGlyphs" >2 Dec 16:00</text>
<text x="516.5" y="891" font-size="10" fill="#000" text-anchor="start" textLength="51.2" lengthAdjust="spacingAndGlyphs" >4 Dec 00:00</text>
<text x="580.5" y="891" font-size="10" fill="#000" text-anchor="start" textLength="51.2" lengthAdjust="spacingAndGlyphs" >7 Dec 04:00</text>
<text x="644.5" y="891" font-size="10" fill="#000" text-anchor="start" textLength="51.2" lengthAdjust="spacingAndGlyphs" >8 Dec 12:00</text>
<text x="708.5" y="891" font-size="10" fill="#000" text-anchor="start" textLength="51.2" lengthAdjust="spacingAndGlyphs" >9 Dec 20:00</text>
<text x="772.5" y="891" font-size="10" fill="#000" text-anchor="start" textLength="55.8" lengthAdjust="spacingAndGlyphs" >11 Dec 04:00</text>
<text x="836.5" y="891" font-size="10" fill="#000" text-anchor="start" textLength="56.5" lengthAdjust="spacingAndGlyphs" >14 Dec 08:00</text>
<text x="900.5" y="891" font-size="10" fill="#000" text-anchor="start" textLength="56.5" lengthAdjust="spacingAndGlyphs" >15 Dec 16:00</text>
<text x="964.5" y="891" font-size="10" fill="#000" text-anchor="start" textLength="56.5" lengthAdjust="spacingAndGlyphs" >17 Dec 00:00</text>
<text x="1028.5" y="891" font-size="10" fill="#000" text-anchor="start" textLength="56.5" lengthAdjust="spacingAndGlyphs" >18 Dec 08:00</text>
<text x="1092.5" y="891" font-size="10" fill="#000" text-anchor="start" textLength="56.5" lengthAdjust="spacingAndGlyphs" >21 Dec 12:00</text>
<text x="1156.5" y="891" font-size="10" fill="#000" text-anchor="start" textLength="56.5" lengthAdjust="spacingAndGlyphs" >22 Dec 20:00</text>
<text x="1220.5" y="891" font-size="10" fill="#000" text-anchor="start" textLength="56.5" lengthAdjust="spacingAndGlyphs" >24 Dec 04:00</text>
<text x="1284.5" y="891" font-size="10" fill="#000" text-anchor="start" textLength="56.5" lengthAdjust="spacingAndGlyphs" >28 Dec 12:00</text>
<text x="1348.5" y="891" font-size="10" fill="#000" text-anchor="start" textLength="56.5" lengthAdjust="spacingAndGlyphs" >29 Dec 20:00</text>
<text x="1412.5" y="891" font-size="10" fill="#000" text-anchor="start" textLength="56.5" lengthAdjust="spacingAndGlyphs" >31 Dec 04:00</text>
<text x="1476.5" y="891" font-size="10" fill="#000" text-anchor="start" textLength="49.6" lengthAdjust="spacingAndGlyphs" >4 Jan 08:00</text>
<text x="1540.5" y="891" font-size="10" fill="#000" text-anchor="start" textLength="49.6" lengthAdjust="spacingAndGlyphs" >5 Jan 16:00</text>
<text x="1604.5" y="891" font-size="10" fill="#000" text-anchor="start" textLength="49.6" lengthAdjust="spacingAndGlyphs" >7 Jan 00:00</text>
</svg></body></html>
